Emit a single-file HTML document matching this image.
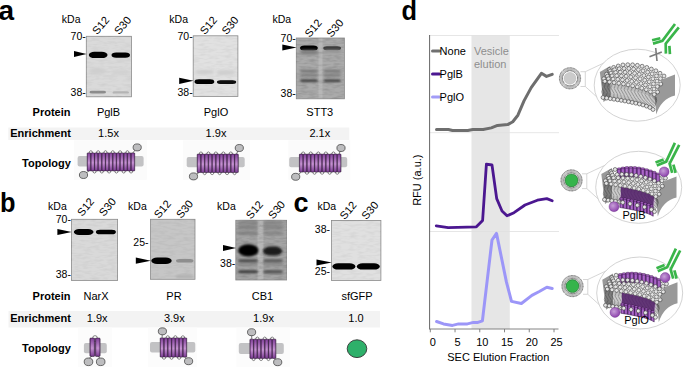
<!DOCTYPE html><html><head><meta charset="utf-8"><style>html,body{margin:0;padding:0;background:#fff;overflow:hidden}svg{display:block}text{font-family:"Liberation Sans",sans-serif}</style></head><body>
<svg width="685" height="367" viewBox="0 0 685 367">
<defs>
<filter id="b1" x="-20%" y="-50%" width="140%" height="200%"><feGaussianBlur stdDeviation="0.7"/></filter>
<filter id="b2" x="-20%" y="-80%" width="140%" height="260%"><feGaussianBlur stdDeviation="1.0"/></filter>
<filter id="b3" x="-20%" y="-80%" width="140%" height="260%"><feGaussianBlur stdDeviation="1.6"/></filter>
<linearGradient id="hel" x1="0" x2="0" y1="0" y2="1">
<stop offset="0" stop-color="#82409a"/><stop offset="0.55" stop-color="#c895d4"/><stop offset="1" stop-color="#7c3c94"/>
</linearGradient>
<linearGradient id="helh" x1="0" x2="1" y1="0" y2="0">
<stop offset="0" stop-color="#3a1048" stop-opacity="0.55"/><stop offset="0.35" stop-color="#3a1048" stop-opacity="0"/><stop offset="0.7" stop-color="#3a1048" stop-opacity="0.05"/><stop offset="1" stop-color="#3a1048" stop-opacity="0.45"/>
</linearGradient>
<filter id="nz" x="0" y="0" width="1" height="1" filterUnits="objectBoundingBox"><feTurbulence type="fractalNoise" baseFrequency="0.12 0.45" numOctaves="2" seed="4"/><feColorMatrix type="matrix" values="0 0 0 0 0  0 0 0 0 0  0 0 0 0 0  1.4 0 0 0 -0.55"/></filter>
<filter id="b4" x="-30%" y="-150%" width="160%" height="400%"><feGaussianBlur stdDeviation="2.2 1.4"/></filter>
<linearGradient id="cyl" x1="0" x2="1" y1="0" y2="0"><stop offset="0" stop-color="#74309a"/><stop offset="0.45" stop-color="#b06ccc"/><stop offset="1" stop-color="#8240a0"/></linearGradient>
<radialGradient id="pball" cx="0.4" cy="0.4" r="0.6"><stop offset="0" stop-color="#c7a0d8"/><stop offset="1" stop-color="#8e44ad"/></radialGradient>
</defs>
<text x="-1.5" y="19.7" font-size="28" font-weight="bold">a</text>
<text x="0" y="212.4" font-size="27" font-weight="bold" transform="translate(1.5,0) scale(0.94,1) translate(-1.5,0)">b</text>
<text x="293.5" y="212.4" font-size="27" font-weight="bold">c</text>
<rect x="86.3" y="36.3" width="45.2" height="60.5" fill="#dadada" stroke="#8a8a8a" stroke-width="0.8"/>
<rect x="86.8" y="36.8" width="44.2" height="59.5" fill="#000" filter="url(#nz)" opacity="0.07"/>
<rect x="88.8" y="51.8" width="18.700000000000003" height="6.300000000000004" rx="5.670000000000004" ry="3.150000000000002" fill="#000" filter="url(#b1)"/>
<rect x="111.5" y="52.5" width="18.5" height="5.200000000000003" rx="4.680000000000002" ry="2.6000000000000014" fill="#050505" filter="url(#b1)"/>
<rect x="89.5" y="90.8" width="16.5" height="2.799999999999997" rx="2.5199999999999974" ry="1.3999999999999986" fill="#8c8c8c" filter="url(#b1)"/>
<rect x="112.5" y="91.2" width="16.5" height="2.3999999999999915" rx="2.1599999999999926" ry="1.1999999999999957" fill="#b4b4b4" filter="url(#b1)"/>
<rect x="89" y="68" width="17" height="6" rx="5.4" ry="3.0" fill="#cfcfcf" filter="url(#b3)"/>
<rect x="112" y="70" width="17" height="5" rx="4.5" ry="2.5" fill="#d2d2d2" filter="url(#b3)"/>
<text x="61.8" y="22.9" font-size="10.5" font-weight="normal" text-anchor="start" fill="#000" >kDa</text>
<text x="0" y="0" font-size="11" transform="translate(97.3,35.3) rotate(-50)">S12</text>
<text x="0" y="0" font-size="11" transform="translate(119.3,35.3) rotate(-50)">S30</text>
<text x="85.8" y="40.3" font-size="10.5" font-weight="normal" text-anchor="end" fill="#000" >70-</text>
<text x="85.8" y="95.8" font-size="10.5" font-weight="normal" text-anchor="end" fill="#000" >38-</text>
<polygon points="74.0,50.9 86.6,54 74.0,57.1" fill="#000"/>
<rect x="193.2" y="35.8" width="44.70000000000002" height="60.60000000000001" fill="#e1e1e1" stroke="#8a8a8a" stroke-width="0.8"/>
<rect x="193.7" y="36.3" width="43.70000000000002" height="59.60000000000001" fill="#000" filter="url(#nz)" opacity="0.07"/>
<rect x="194.5" y="79.2" width="19.80000000000001" height="4.8999999999999915" rx="4.409999999999992" ry="2.4499999999999957" fill="#000" filter="url(#b1)"/>
<rect x="217" y="80.2" width="19.19999999999999" height="3.799999999999997" rx="3.4199999999999977" ry="1.8999999999999986" fill="#080808" filter="url(#b1)"/>
<rect x="195" y="70" width="19" height="4" rx="3.6" ry="2.0" fill="#cdcdcd" filter="url(#b3)"/>
<rect x="217" y="70" width="18" height="5" rx="4.5" ry="2.5" fill="#cfcfcf" filter="url(#b3)"/>
<text x="169.3" y="23.3" font-size="10.5" font-weight="normal" text-anchor="start" fill="#000" >kDa</text>
<text x="0" y="0" font-size="11" transform="translate(205.1,35.3) rotate(-50)">S12</text>
<text x="0" y="0" font-size="11" transform="translate(226.7,35.3) rotate(-50)">S30</text>
<text x="192.7" y="39.599999999999994" font-size="10.5" font-weight="normal" text-anchor="end" fill="#000" >70-</text>
<text x="192.7" y="95.8" font-size="10.5" font-weight="normal" text-anchor="end" fill="#000" >38-</text>
<polygon points="179.2,77.7 193.5,80.8 179.2,83.89999999999999" fill="#000"/>
<rect x="296.3" y="38" width="48.099999999999966" height="60.8" fill="#aaaaaa" stroke="#8a8a8a" stroke-width="0.8"/>
<rect x="318.5" y="38.5" width="4.0" height="59.8" fill="#c0c0c0" opacity="0.6" filter="url(#b1)"/>
<rect x="296.8" y="38.5" width="47.099999999999966" height="59.8" fill="#000" filter="url(#nz)" opacity="0.18"/>
<rect x="300" y="45.6" width="17.80000000000001" height="5.0" rx="4.5" ry="2.5" fill="#000" filter="url(#b1)"/>
<rect x="323.3" y="46.3" width="17.69999999999999" height="3.9000000000000057" rx="3.510000000000005" ry="1.9500000000000028" fill="#3a3a3a" filter="url(#b1)"/>
<rect x="300" y="50" width="18" height="4.5" rx="4.05" ry="2.25" fill="#7a7a7a" filter="url(#b3)"/>
<rect x="323.5" y="50" width="17.5" height="3" rx="2.7" ry="1.5" fill="#959595" filter="url(#b3)"/>
<rect x="300" y="69.8" width="18" height="2.799999999999997" rx="2.5199999999999974" ry="1.3999999999999986" fill="#767676" filter="url(#b2)"/>
<rect x="323.5" y="69.8" width="17.5" height="2.799999999999997" rx="2.5199999999999974" ry="1.3999999999999986" fill="#767676" filter="url(#b2)"/>
<rect x="300" y="74" width="18" height="2.4000000000000057" rx="2.160000000000005" ry="1.2000000000000028" fill="#7a7a7a" filter="url(#b2)"/>
<rect x="323.5" y="74" width="17.5" height="2.4000000000000057" rx="2.160000000000005" ry="1.2000000000000028" fill="#7a7a7a" filter="url(#b2)"/>
<rect x="300" y="79.6" width="18" height="2.4000000000000057" rx="2.160000000000005" ry="1.2000000000000028" fill="#383838" filter="url(#b2)"/>
<rect x="323.5" y="79.6" width="17.5" height="2.4000000000000057" rx="2.160000000000005" ry="1.2000000000000028" fill="#383838" filter="url(#b2)"/>
<text x="272.4" y="22.9" font-size="10.5" font-weight="normal" text-anchor="start" fill="#000" >kDa</text>
<text x="0" y="0" font-size="11" transform="translate(309.8,38) rotate(-50)">S12</text>
<text x="0" y="0" font-size="11" transform="translate(331.6,38) rotate(-50)">S30</text>
<text x="295.8" y="41.9" font-size="10.5" font-weight="normal" text-anchor="end" fill="#000" >70-</text>
<text x="295.8" y="97.1" font-size="10.5" font-weight="normal" text-anchor="end" fill="#000" >38-</text>
<polygon points="282.3,44.4 296.6,47.5 282.3,50.6" fill="#000"/>
<rect x="71.4" y="219.3" width="46.19999999999999" height="61.19999999999999" fill="#d9d9d9" stroke="#8a8a8a" stroke-width="0.8"/>
<rect x="71.9" y="219.8" width="45.19999999999999" height="60.19999999999999" fill="#000" filter="url(#nz)" opacity="0.07"/>
<rect x="73.8" y="229.1" width="19.700000000000003" height="5.800000000000011" rx="5.22000000000001" ry="2.9000000000000057" fill="#000" filter="url(#b1)"/>
<rect x="95.9" y="229.7" width="20.0" height="4.600000000000023" rx="4.140000000000021" ry="2.3000000000000114" fill="#000" filter="url(#b1)"/>
<text x="48.1" y="210" font-size="10.5" font-weight="normal" text-anchor="start" fill="#000" >kDa</text>
<text x="0" y="0" font-size="11" transform="translate(82.2,216.9) rotate(-50)">S12</text>
<text x="0" y="0" font-size="11" transform="translate(104,216.9) rotate(-50)">S30</text>
<text x="70.9" y="223.3" font-size="10.5" font-weight="normal" text-anchor="end" fill="#000" >70-</text>
<text x="70.9" y="278.1" font-size="10.5" font-weight="normal" text-anchor="end" fill="#000" >38-</text>
<polygon points="57.400000000000006,228.9 71.7,232 57.400000000000006,235.1" fill="#000"/>
<rect x="150.5" y="219.3" width="44.5" height="60.0" fill="#c6c6c6" stroke="#8a8a8a" stroke-width="0.8"/>
<rect x="151.0" y="219.8" width="43.5" height="59.0" fill="#000" filter="url(#nz)" opacity="0.07"/>
<rect x="151.3" y="257.5" width="20.399999999999977" height="6.5" rx="5.8500000000000005" ry="3.25" fill="#000" filter="url(#b1)"/>
<rect x="176" y="259" width="17.5" height="3.6000000000000227" rx="3.2400000000000206" ry="1.8000000000000114" fill="#8e8e8e" filter="url(#b1)"/>
<rect x="176" y="275" width="17.5" height="3" rx="2.7" ry="1.5" fill="#b0b0b0" filter="url(#b2)"/>
<text x="128.1" y="210" font-size="10.5" font-weight="normal" text-anchor="start" fill="#000" >kDa</text>
<text x="0" y="0" font-size="11" transform="translate(159.1,219.1) rotate(-50)">S12</text>
<text x="0" y="0" font-size="11" transform="translate(181.2,219.1) rotate(-50)">S30</text>
<text x="148.5" y="246.20000000000002" font-size="10.5" font-weight="normal" text-anchor="end" fill="#000" >25-</text>
<polygon points="135.8,257.59999999999997 150.8,260.7 135.8,263.8" fill="#000"/>
<rect x="235.8" y="220.3" width="50.80000000000001" height="59.69999999999999" fill="#a4a4a4" stroke="#8a8a8a" stroke-width="0.8"/>
<rect x="257.5" y="220.8" width="6.0" height="58.69999999999999" fill="#c4c4c4" opacity="0.6" filter="url(#b1)"/>
<rect x="236.3" y="220.8" width="49.80000000000001" height="58.69999999999999" fill="#000" filter="url(#nz)" opacity="0.18"/>
<rect x="238.2" y="244.2" width="20.30000000000001" height="12.400000000000034" rx="10.150000000000006" ry="6.200000000000017" fill="#000" filter="url(#b2)"/>
<rect x="262.8" y="246.6" width="19.599999999999966" height="9.0" rx="8.1" ry="4.5" fill="#1c1c1c" filter="url(#b2)"/>
<rect x="238" y="221.5" width="20" height="2.6999999999999886" rx="2.42999999999999" ry="1.3499999999999943" fill="#7a7a7a" filter="url(#b3)"/>
<rect x="263" y="221.5" width="20" height="2.6999999999999886" rx="2.42999999999999" ry="1.3499999999999943" fill="#7a7a7a" filter="url(#b3)"/>
<rect x="238" y="226" width="20" height="2.5999999999999943" rx="2.339999999999995" ry="1.2999999999999972" fill="#707070" filter="url(#b3)"/>
<rect x="263" y="226" width="20" height="2.5999999999999943" rx="2.339999999999995" ry="1.2999999999999972" fill="#747474" filter="url(#b3)"/>
<rect x="238" y="231.8" width="20" height="2.5999999999999943" rx="2.339999999999995" ry="1.2999999999999972" fill="#767676" filter="url(#b3)"/>
<rect x="263" y="231.8" width="20" height="2.5999999999999943" rx="2.339999999999995" ry="1.2999999999999972" fill="#7a7a7a" filter="url(#b3)"/>
<rect x="238" y="259.2" width="20" height="3.1999999999999886" rx="2.8799999999999897" ry="1.5999999999999943" fill="#4a4a4a" filter="url(#b2)"/>
<rect x="263" y="259.2" width="20" height="3.1999999999999886" rx="2.8799999999999897" ry="1.5999999999999943" fill="#585858" filter="url(#b2)"/>
<rect x="238" y="263.5" width="20" height="2.0" rx="1.8" ry="1.0" fill="#7a7a7a" filter="url(#b3)"/>
<rect x="263" y="263.5" width="20" height="2.0" rx="1.8" ry="1.0" fill="#7a7a7a" filter="url(#b3)"/>
<rect x="238" y="270.2" width="20" height="3.0" rx="2.7" ry="1.5" fill="#3e3e3e" filter="url(#b2)"/>
<rect x="263" y="270.2" width="20" height="3.0" rx="2.7" ry="1.5" fill="#4e4e4e" filter="url(#b2)"/>
<text x="217.1" y="210" font-size="10.5" font-weight="normal" text-anchor="start" fill="#000" >kDa</text>
<text x="0" y="0" font-size="11" transform="translate(251.1,219.7) rotate(-50)">S12</text>
<text x="0" y="0" font-size="11" transform="translate(273.2,219.7) rotate(-50)">S30</text>
<text x="235.3" y="266.6" font-size="10.5" font-weight="normal" text-anchor="end" fill="#000" >38-</text>
<polygon points="223.0,244.9 236.10000000000002,248 223.0,251.1" fill="#000"/>
<rect x="331.5" y="220.4" width="49.39999999999998" height="60.099999999999994" fill="#e0e0e0" stroke="#8a8a8a" stroke-width="0.8"/>
<rect x="332.0" y="220.9" width="48.39999999999998" height="59.099999999999994" fill="#000" filter="url(#nz)" opacity="0.07"/>
<rect x="332.4" y="263.2" width="23.0" height="6.400000000000034" rx="5.760000000000031" ry="3.200000000000017" fill="#000" filter="url(#b1)"/>
<rect x="356.8" y="263.2" width="23.0" height="6.400000000000034" rx="5.760000000000031" ry="3.200000000000017" fill="#000" filter="url(#b1)"/>
<text x="317.4" y="210" font-size="10.5" font-weight="normal" text-anchor="start" fill="#000" >kDa</text>
<text x="0" y="0" font-size="11" transform="translate(344.7,220.3) rotate(-50)">S12</text>
<text x="0" y="0" font-size="11" transform="translate(366.6,220.3) rotate(-50)">S30</text>
<text x="330.0" y="233.3" font-size="10.5" font-weight="normal" text-anchor="end" fill="#000" >38-</text>
<text x="330.0" y="274.90000000000003" font-size="10.5" font-weight="normal" text-anchor="end" fill="#000" >25-</text>
<polygon points="316.5,259.4 331.8,262.5 316.5,265.6" fill="#000"/>
<rect x="8.3" y="127.5" width="341" height="12.5" fill="#f3f3f3"/>
<rect x="8.5" y="311" width="371.5" height="16.5" fill="#f3f3f3"/>
<rect x="73.9" y="140.3" width="73.0" height="39.5" fill="#fbfbfb"/>
<rect x="183" y="140.3" width="67" height="39.5" fill="#fbfbfb"/>
<rect x="288.3" y="140.3" width="62.0" height="39.5" fill="#fbfbfb"/>
<rect x="78" y="327.5" width="34" height="39.5" fill="#fcfcfc"/>
<rect x="148" y="327.5" width="49" height="39.5" fill="#fcfcfc"/>
<rect x="236.3" y="327.5" width="53.69999999999999" height="39.5" fill="#fcfcfc"/>
<text x="70.5" y="115.7" font-size="11" font-weight="bold" text-anchor="end" fill="#000" >Protein</text>
<text x="70.8" y="137" font-size="11" font-weight="bold" text-anchor="end" fill="#000" >Enrichment</text>
<text x="70.8" y="167" font-size="11" font-weight="bold" text-anchor="end" fill="#000" >Topology</text>
<text x="70.5" y="300.2" font-size="11" font-weight="bold" text-anchor="end" fill="#000" >Protein</text>
<text x="70.8" y="321.9" font-size="11" font-weight="bold" text-anchor="end" fill="#000" >Enrichment</text>
<text x="70.8" y="351.6" font-size="11" font-weight="bold" text-anchor="end" fill="#000" >Topology</text>
<text x="108.5" y="115.5" font-size="11" font-weight="normal" text-anchor="middle" fill="#000" >PglB</text>
<text x="108.5" y="137" font-size="11" font-weight="normal" text-anchor="middle" fill="#000" >1.5x</text>
<text x="216" y="115.5" font-size="11" font-weight="normal" text-anchor="middle" fill="#000" >PglO</text>
<text x="216" y="137" font-size="11" font-weight="normal" text-anchor="middle" fill="#000" >1.9x</text>
<text x="319.8" y="115.5" font-size="11" font-weight="normal" text-anchor="middle" fill="#000" >STT3</text>
<text x="319.8" y="137" font-size="11" font-weight="normal" text-anchor="middle" fill="#000" >2.1x</text>
<text x="96" y="300" font-size="11" font-weight="normal" text-anchor="middle" fill="#000" >NarX</text>
<text x="97.2" y="322" font-size="11" font-weight="normal" text-anchor="middle" fill="#000" >1.9x</text>
<text x="174" y="300" font-size="11" font-weight="normal" text-anchor="middle" fill="#000" >PR</text>
<text x="174.3" y="322" font-size="11" font-weight="normal" text-anchor="middle" fill="#000" >3.9x</text>
<text x="262.5" y="300" font-size="11" font-weight="normal" text-anchor="middle" fill="#000" >CB1</text>
<text x="263.5" y="322" font-size="11" font-weight="normal" text-anchor="middle" fill="#000" >1.9x</text>
<text x="357" y="300" font-size="11" font-weight="normal" text-anchor="middle" fill="#000" >sfGFP</text>
<text x="356" y="322" font-size="11" font-weight="normal" text-anchor="middle" fill="#000" >1.0</text>
<rect x="77.6" y="156" width="66.0" height="10.400000000000006" rx="2" fill="#c2c2c4"/>
<ellipse cx="90.85" cy="153.70" rx="1.83" ry="3" fill="#fff" stroke="#222" stroke-width="0.55"/>
<ellipse cx="94.51" cy="170.10" rx="1.83" ry="3" fill="#fff" stroke="#222" stroke-width="0.55"/>
<ellipse cx="98.16" cy="153.70" rx="1.83" ry="3" fill="#fff" stroke="#222" stroke-width="0.55"/>
<ellipse cx="101.82" cy="170.10" rx="1.83" ry="3" fill="#fff" stroke="#222" stroke-width="0.55"/>
<ellipse cx="105.47" cy="153.70" rx="1.83" ry="3" fill="#fff" stroke="#222" stroke-width="0.55"/>
<ellipse cx="109.12" cy="170.10" rx="1.83" ry="3" fill="#fff" stroke="#222" stroke-width="0.55"/>
<ellipse cx="112.78" cy="153.70" rx="1.83" ry="3" fill="#fff" stroke="#222" stroke-width="0.55"/>
<ellipse cx="116.43" cy="170.10" rx="1.83" ry="3" fill="#fff" stroke="#222" stroke-width="0.55"/>
<ellipse cx="120.08" cy="153.70" rx="1.83" ry="3" fill="#fff" stroke="#222" stroke-width="0.55"/>
<ellipse cx="123.74" cy="170.10" rx="1.83" ry="3" fill="#fff" stroke="#222" stroke-width="0.55"/>
<ellipse cx="127.39" cy="153.70" rx="1.83" ry="3" fill="#fff" stroke="#222" stroke-width="0.55"/>
<ellipse cx="131.05" cy="170.10" rx="1.83" ry="3" fill="#fff" stroke="#222" stroke-width="0.55"/>
<line x1="132.87" y1="152.90" x2="137.20" y2="147.40" stroke="#222" stroke-width="0.6"/>
<line x1="89.03" y1="170.90" x2="83.50" y2="175.00" stroke="#222" stroke-width="0.6"/>
<rect x="87.20" y="152.9" width="3.65" height="18.00" rx="0.6" fill="url(#hel)"/>
<rect x="87.20" y="152.9" width="3.65" height="18.00" rx="0.6" fill="url(#helh)" stroke="#2a1a30" stroke-width="0.55"/>
<rect x="90.85" y="152.9" width="3.65" height="18.00" rx="0.6" fill="url(#hel)"/>
<rect x="90.85" y="152.9" width="3.65" height="18.00" rx="0.6" fill="url(#helh)" stroke="#2a1a30" stroke-width="0.55"/>
<rect x="94.51" y="152.9" width="3.65" height="18.00" rx="0.6" fill="url(#hel)"/>
<rect x="94.51" y="152.9" width="3.65" height="18.00" rx="0.6" fill="url(#helh)" stroke="#2a1a30" stroke-width="0.55"/>
<rect x="98.16" y="152.9" width="3.65" height="18.00" rx="0.6" fill="url(#hel)"/>
<rect x="98.16" y="152.9" width="3.65" height="18.00" rx="0.6" fill="url(#helh)" stroke="#2a1a30" stroke-width="0.55"/>
<rect x="101.82" y="152.9" width="3.65" height="18.00" rx="0.6" fill="url(#hel)"/>
<rect x="101.82" y="152.9" width="3.65" height="18.00" rx="0.6" fill="url(#helh)" stroke="#2a1a30" stroke-width="0.55"/>
<rect x="105.47" y="152.9" width="3.65" height="18.00" rx="0.6" fill="url(#hel)"/>
<rect x="105.47" y="152.9" width="3.65" height="18.00" rx="0.6" fill="url(#helh)" stroke="#2a1a30" stroke-width="0.55"/>
<rect x="109.12" y="152.9" width="3.65" height="18.00" rx="0.6" fill="url(#hel)"/>
<rect x="109.12" y="152.9" width="3.65" height="18.00" rx="0.6" fill="url(#helh)" stroke="#2a1a30" stroke-width="0.55"/>
<rect x="112.78" y="152.9" width="3.65" height="18.00" rx="0.6" fill="url(#hel)"/>
<rect x="112.78" y="152.9" width="3.65" height="18.00" rx="0.6" fill="url(#helh)" stroke="#2a1a30" stroke-width="0.55"/>
<rect x="116.43" y="152.9" width="3.65" height="18.00" rx="0.6" fill="url(#hel)"/>
<rect x="116.43" y="152.9" width="3.65" height="18.00" rx="0.6" fill="url(#helh)" stroke="#2a1a30" stroke-width="0.55"/>
<rect x="120.08" y="152.9" width="3.65" height="18.00" rx="0.6" fill="url(#hel)"/>
<rect x="120.08" y="152.9" width="3.65" height="18.00" rx="0.6" fill="url(#helh)" stroke="#2a1a30" stroke-width="0.55"/>
<rect x="123.74" y="152.9" width="3.65" height="18.00" rx="0.6" fill="url(#hel)"/>
<rect x="123.74" y="152.9" width="3.65" height="18.00" rx="0.6" fill="url(#helh)" stroke="#2a1a30" stroke-width="0.55"/>
<rect x="127.39" y="152.9" width="3.65" height="18.00" rx="0.6" fill="url(#hel)"/>
<rect x="127.39" y="152.9" width="3.65" height="18.00" rx="0.6" fill="url(#helh)" stroke="#2a1a30" stroke-width="0.55"/>
<rect x="131.05" y="152.9" width="3.65" height="18.00" rx="0.6" fill="url(#hel)"/>
<rect x="131.05" y="152.9" width="3.65" height="18.00" rx="0.6" fill="url(#helh)" stroke="#2a1a30" stroke-width="0.55"/>
<ellipse cx="137.2" cy="147.4" rx="4.1" ry="3.5" fill="#bdbdbf" stroke="#333" stroke-width="0.7"/>
<ellipse cx="83.5" cy="175" rx="4.1" ry="3.5" fill="#bdbdbf" stroke="#333" stroke-width="0.7"/>
<rect x="186.7" y="157" width="58.0" height="10.199999999999989" rx="2" fill="#c2c2c4"/>
<ellipse cx="200.94" cy="154.90" rx="1.87" ry="3" fill="#fff" stroke="#222" stroke-width="0.55"/>
<ellipse cx="204.67" cy="171.70" rx="1.87" ry="3" fill="#fff" stroke="#222" stroke-width="0.55"/>
<ellipse cx="208.41" cy="154.90" rx="1.87" ry="3" fill="#fff" stroke="#222" stroke-width="0.55"/>
<ellipse cx="212.15" cy="171.70" rx="1.87" ry="3" fill="#fff" stroke="#222" stroke-width="0.55"/>
<ellipse cx="215.88" cy="154.90" rx="1.87" ry="3" fill="#fff" stroke="#222" stroke-width="0.55"/>
<ellipse cx="219.62" cy="171.70" rx="1.87" ry="3" fill="#fff" stroke="#222" stroke-width="0.55"/>
<ellipse cx="223.35" cy="154.90" rx="1.87" ry="3" fill="#fff" stroke="#222" stroke-width="0.55"/>
<ellipse cx="227.09" cy="171.70" rx="1.87" ry="3" fill="#fff" stroke="#222" stroke-width="0.55"/>
<ellipse cx="230.83" cy="154.90" rx="1.87" ry="3" fill="#fff" stroke="#222" stroke-width="0.55"/>
<ellipse cx="234.56" cy="171.70" rx="1.87" ry="3" fill="#fff" stroke="#222" stroke-width="0.55"/>
<line x1="236.43" y1="154.10" x2="239.30" y2="148.00" stroke="#222" stroke-width="0.6"/>
<line x1="199.07" y1="172.50" x2="193.50" y2="176.40" stroke="#222" stroke-width="0.6"/>
<rect x="197.20" y="154.1" width="3.74" height="18.40" rx="0.6" fill="url(#hel)"/>
<rect x="197.20" y="154.1" width="3.74" height="18.40" rx="0.6" fill="url(#helh)" stroke="#2a1a30" stroke-width="0.55"/>
<rect x="200.94" y="154.1" width="3.74" height="18.40" rx="0.6" fill="url(#hel)"/>
<rect x="200.94" y="154.1" width="3.74" height="18.40" rx="0.6" fill="url(#helh)" stroke="#2a1a30" stroke-width="0.55"/>
<rect x="204.67" y="154.1" width="3.74" height="18.40" rx="0.6" fill="url(#hel)"/>
<rect x="204.67" y="154.1" width="3.74" height="18.40" rx="0.6" fill="url(#helh)" stroke="#2a1a30" stroke-width="0.55"/>
<rect x="208.41" y="154.1" width="3.74" height="18.40" rx="0.6" fill="url(#hel)"/>
<rect x="208.41" y="154.1" width="3.74" height="18.40" rx="0.6" fill="url(#helh)" stroke="#2a1a30" stroke-width="0.55"/>
<rect x="212.15" y="154.1" width="3.74" height="18.40" rx="0.6" fill="url(#hel)"/>
<rect x="212.15" y="154.1" width="3.74" height="18.40" rx="0.6" fill="url(#helh)" stroke="#2a1a30" stroke-width="0.55"/>
<rect x="215.88" y="154.1" width="3.74" height="18.40" rx="0.6" fill="url(#hel)"/>
<rect x="215.88" y="154.1" width="3.74" height="18.40" rx="0.6" fill="url(#helh)" stroke="#2a1a30" stroke-width="0.55"/>
<rect x="219.62" y="154.1" width="3.74" height="18.40" rx="0.6" fill="url(#hel)"/>
<rect x="219.62" y="154.1" width="3.74" height="18.40" rx="0.6" fill="url(#helh)" stroke="#2a1a30" stroke-width="0.55"/>
<rect x="223.35" y="154.1" width="3.74" height="18.40" rx="0.6" fill="url(#hel)"/>
<rect x="223.35" y="154.1" width="3.74" height="18.40" rx="0.6" fill="url(#helh)" stroke="#2a1a30" stroke-width="0.55"/>
<rect x="227.09" y="154.1" width="3.74" height="18.40" rx="0.6" fill="url(#hel)"/>
<rect x="227.09" y="154.1" width="3.74" height="18.40" rx="0.6" fill="url(#helh)" stroke="#2a1a30" stroke-width="0.55"/>
<rect x="230.83" y="154.1" width="3.74" height="18.40" rx="0.6" fill="url(#hel)"/>
<rect x="230.83" y="154.1" width="3.74" height="18.40" rx="0.6" fill="url(#helh)" stroke="#2a1a30" stroke-width="0.55"/>
<rect x="234.56" y="154.1" width="3.74" height="18.40" rx="0.6" fill="url(#hel)"/>
<rect x="234.56" y="154.1" width="3.74" height="18.40" rx="0.6" fill="url(#helh)" stroke="#2a1a30" stroke-width="0.55"/>
<ellipse cx="239.3" cy="148" rx="4.1" ry="3.5" fill="#bdbdbf" stroke="#333" stroke-width="0.7"/>
<ellipse cx="193.5" cy="176.4" rx="4.1" ry="3.5" fill="#bdbdbf" stroke="#333" stroke-width="0.7"/>
<rect x="289.2" y="156.9" width="58.0" height="10.299999999999983" rx="2" fill="#c2c2c4"/>
<ellipse cx="303.18" cy="154.90" rx="1.89" ry="3" fill="#fff" stroke="#222" stroke-width="0.55"/>
<ellipse cx="306.96" cy="171.30" rx="1.89" ry="3" fill="#fff" stroke="#222" stroke-width="0.55"/>
<ellipse cx="310.75" cy="154.90" rx="1.89" ry="3" fill="#fff" stroke="#222" stroke-width="0.55"/>
<ellipse cx="314.53" cy="171.30" rx="1.89" ry="3" fill="#fff" stroke="#222" stroke-width="0.55"/>
<ellipse cx="318.31" cy="154.90" rx="1.89" ry="3" fill="#fff" stroke="#222" stroke-width="0.55"/>
<ellipse cx="322.09" cy="171.30" rx="1.89" ry="3" fill="#fff" stroke="#222" stroke-width="0.55"/>
<ellipse cx="325.87" cy="154.90" rx="1.89" ry="3" fill="#fff" stroke="#222" stroke-width="0.55"/>
<ellipse cx="329.65" cy="171.30" rx="1.89" ry="3" fill="#fff" stroke="#222" stroke-width="0.55"/>
<ellipse cx="333.44" cy="154.90" rx="1.89" ry="3" fill="#fff" stroke="#222" stroke-width="0.55"/>
<ellipse cx="337.22" cy="171.30" rx="1.89" ry="3" fill="#fff" stroke="#222" stroke-width="0.55"/>
<line x1="339.11" y1="154.10" x2="341.00" y2="148.00" stroke="#222" stroke-width="0.6"/>
<line x1="301.29" y1="172.10" x2="295.70" y2="176.80" stroke="#222" stroke-width="0.6"/>
<rect x="299.40" y="154.1" width="3.78" height="18.00" rx="0.6" fill="url(#hel)"/>
<rect x="299.40" y="154.1" width="3.78" height="18.00" rx="0.6" fill="url(#helh)" stroke="#2a1a30" stroke-width="0.55"/>
<rect x="303.18" y="154.1" width="3.78" height="18.00" rx="0.6" fill="url(#hel)"/>
<rect x="303.18" y="154.1" width="3.78" height="18.00" rx="0.6" fill="url(#helh)" stroke="#2a1a30" stroke-width="0.55"/>
<rect x="306.96" y="154.1" width="3.78" height="18.00" rx="0.6" fill="url(#hel)"/>
<rect x="306.96" y="154.1" width="3.78" height="18.00" rx="0.6" fill="url(#helh)" stroke="#2a1a30" stroke-width="0.55"/>
<rect x="310.75" y="154.1" width="3.78" height="18.00" rx="0.6" fill="url(#hel)"/>
<rect x="310.75" y="154.1" width="3.78" height="18.00" rx="0.6" fill="url(#helh)" stroke="#2a1a30" stroke-width="0.55"/>
<rect x="314.53" y="154.1" width="3.78" height="18.00" rx="0.6" fill="url(#hel)"/>
<rect x="314.53" y="154.1" width="3.78" height="18.00" rx="0.6" fill="url(#helh)" stroke="#2a1a30" stroke-width="0.55"/>
<rect x="318.31" y="154.1" width="3.78" height="18.00" rx="0.6" fill="url(#hel)"/>
<rect x="318.31" y="154.1" width="3.78" height="18.00" rx="0.6" fill="url(#helh)" stroke="#2a1a30" stroke-width="0.55"/>
<rect x="322.09" y="154.1" width="3.78" height="18.00" rx="0.6" fill="url(#hel)"/>
<rect x="322.09" y="154.1" width="3.78" height="18.00" rx="0.6" fill="url(#helh)" stroke="#2a1a30" stroke-width="0.55"/>
<rect x="325.87" y="154.1" width="3.78" height="18.00" rx="0.6" fill="url(#hel)"/>
<rect x="325.87" y="154.1" width="3.78" height="18.00" rx="0.6" fill="url(#helh)" stroke="#2a1a30" stroke-width="0.55"/>
<rect x="329.65" y="154.1" width="3.78" height="18.00" rx="0.6" fill="url(#hel)"/>
<rect x="329.65" y="154.1" width="3.78" height="18.00" rx="0.6" fill="url(#helh)" stroke="#2a1a30" stroke-width="0.55"/>
<rect x="333.44" y="154.1" width="3.78" height="18.00" rx="0.6" fill="url(#hel)"/>
<rect x="333.44" y="154.1" width="3.78" height="18.00" rx="0.6" fill="url(#helh)" stroke="#2a1a30" stroke-width="0.55"/>
<rect x="337.22" y="154.1" width="3.78" height="18.00" rx="0.6" fill="url(#hel)"/>
<rect x="337.22" y="154.1" width="3.78" height="18.00" rx="0.6" fill="url(#helh)" stroke="#2a1a30" stroke-width="0.55"/>
<ellipse cx="341" cy="148" rx="4.1" ry="3.5" fill="#bdbdbf" stroke="#333" stroke-width="0.7"/>
<ellipse cx="295.7" cy="176.8" rx="4.1" ry="3.5" fill="#bdbdbf" stroke="#333" stroke-width="0.7"/>
<rect x="150" y="342" width="45.30000000000001" height="10.600000000000023" rx="2" fill="#c2c2c4"/>
<ellipse cx="163.99" cy="356.30" rx="1.89" ry="3" fill="#fff" stroke="#222" stroke-width="0.55"/>
<ellipse cx="167.77" cy="338.70" rx="1.89" ry="3" fill="#fff" stroke="#222" stroke-width="0.55"/>
<ellipse cx="171.56" cy="356.30" rx="1.89" ry="3" fill="#fff" stroke="#222" stroke-width="0.55"/>
<ellipse cx="175.34" cy="338.70" rx="1.89" ry="3" fill="#fff" stroke="#222" stroke-width="0.55"/>
<ellipse cx="179.13" cy="356.30" rx="1.89" ry="3" fill="#fff" stroke="#222" stroke-width="0.55"/>
<ellipse cx="182.91" cy="338.70" rx="1.89" ry="3" fill="#fff" stroke="#222" stroke-width="0.55"/>
<line x1="162.09" y1="337.90" x2="162.40" y2="331.30" stroke="#222" stroke-width="0.6"/>
<line x1="184.81" y1="357.10" x2="188.60" y2="361.20" stroke="#222" stroke-width="0.6"/>
<rect x="160.20" y="337.9" width="3.79" height="19.20" rx="0.6" fill="url(#hel)"/>
<rect x="160.20" y="337.9" width="3.79" height="19.20" rx="0.6" fill="url(#helh)" stroke="#2a1a30" stroke-width="0.55"/>
<rect x="163.99" y="337.9" width="3.79" height="19.20" rx="0.6" fill="url(#hel)"/>
<rect x="163.99" y="337.9" width="3.79" height="19.20" rx="0.6" fill="url(#helh)" stroke="#2a1a30" stroke-width="0.55"/>
<rect x="167.77" y="337.9" width="3.79" height="19.20" rx="0.6" fill="url(#hel)"/>
<rect x="167.77" y="337.9" width="3.79" height="19.20" rx="0.6" fill="url(#helh)" stroke="#2a1a30" stroke-width="0.55"/>
<rect x="171.56" y="337.9" width="3.79" height="19.20" rx="0.6" fill="url(#hel)"/>
<rect x="171.56" y="337.9" width="3.79" height="19.20" rx="0.6" fill="url(#helh)" stroke="#2a1a30" stroke-width="0.55"/>
<rect x="175.34" y="337.9" width="3.79" height="19.20" rx="0.6" fill="url(#hel)"/>
<rect x="175.34" y="337.9" width="3.79" height="19.20" rx="0.6" fill="url(#helh)" stroke="#2a1a30" stroke-width="0.55"/>
<rect x="179.13" y="337.9" width="3.79" height="19.20" rx="0.6" fill="url(#hel)"/>
<rect x="179.13" y="337.9" width="3.79" height="19.20" rx="0.6" fill="url(#helh)" stroke="#2a1a30" stroke-width="0.55"/>
<rect x="182.91" y="337.9" width="3.79" height="19.20" rx="0.6" fill="url(#hel)"/>
<rect x="182.91" y="337.9" width="3.79" height="19.20" rx="0.6" fill="url(#helh)" stroke="#2a1a30" stroke-width="0.55"/>
<ellipse cx="162.4" cy="331.3" rx="4.1" ry="3.5" fill="#bdbdbf" stroke="#333" stroke-width="0.7"/>
<ellipse cx="188.6" cy="361.2" rx="4.1" ry="3.5" fill="#bdbdbf" stroke="#333" stroke-width="0.7"/>
<rect x="238.8" y="343" width="45.0" height="10.899999999999977" rx="2" fill="#c2c2c4"/>
<ellipse cx="253.61" cy="357.60" rx="1.86" ry="3" fill="#fff" stroke="#222" stroke-width="0.55"/>
<ellipse cx="257.33" cy="340.00" rx="1.86" ry="3" fill="#fff" stroke="#222" stroke-width="0.55"/>
<ellipse cx="261.04" cy="357.60" rx="1.86" ry="3" fill="#fff" stroke="#222" stroke-width="0.55"/>
<ellipse cx="264.76" cy="340.00" rx="1.86" ry="3" fill="#fff" stroke="#222" stroke-width="0.55"/>
<ellipse cx="268.47" cy="357.60" rx="1.86" ry="3" fill="#fff" stroke="#222" stroke-width="0.55"/>
<ellipse cx="272.19" cy="340.00" rx="1.86" ry="3" fill="#fff" stroke="#222" stroke-width="0.55"/>
<line x1="251.76" y1="339.20" x2="251.60" y2="332.20" stroke="#222" stroke-width="0.6"/>
<line x1="274.04" y1="358.40" x2="277.70" y2="362.20" stroke="#222" stroke-width="0.6"/>
<rect x="249.90" y="339.2" width="3.71" height="19.20" rx="0.6" fill="url(#hel)"/>
<rect x="249.90" y="339.2" width="3.71" height="19.20" rx="0.6" fill="url(#helh)" stroke="#2a1a30" stroke-width="0.55"/>
<rect x="253.61" y="339.2" width="3.71" height="19.20" rx="0.6" fill="url(#hel)"/>
<rect x="253.61" y="339.2" width="3.71" height="19.20" rx="0.6" fill="url(#helh)" stroke="#2a1a30" stroke-width="0.55"/>
<rect x="257.33" y="339.2" width="3.71" height="19.20" rx="0.6" fill="url(#hel)"/>
<rect x="257.33" y="339.2" width="3.71" height="19.20" rx="0.6" fill="url(#helh)" stroke="#2a1a30" stroke-width="0.55"/>
<rect x="261.04" y="339.2" width="3.71" height="19.20" rx="0.6" fill="url(#hel)"/>
<rect x="261.04" y="339.2" width="3.71" height="19.20" rx="0.6" fill="url(#helh)" stroke="#2a1a30" stroke-width="0.55"/>
<rect x="264.76" y="339.2" width="3.71" height="19.20" rx="0.6" fill="url(#hel)"/>
<rect x="264.76" y="339.2" width="3.71" height="19.20" rx="0.6" fill="url(#helh)" stroke="#2a1a30" stroke-width="0.55"/>
<rect x="268.47" y="339.2" width="3.71" height="19.20" rx="0.6" fill="url(#hel)"/>
<rect x="268.47" y="339.2" width="3.71" height="19.20" rx="0.6" fill="url(#helh)" stroke="#2a1a30" stroke-width="0.55"/>
<rect x="272.19" y="339.2" width="3.71" height="19.20" rx="0.6" fill="url(#hel)"/>
<rect x="272.19" y="339.2" width="3.71" height="19.20" rx="0.6" fill="url(#helh)" stroke="#2a1a30" stroke-width="0.55"/>
<ellipse cx="251.6" cy="332.2" rx="4.1" ry="3.5" fill="#bdbdbf" stroke="#333" stroke-width="0.7"/>
<ellipse cx="277.7" cy="362.2" rx="4.1" ry="3.5" fill="#bdbdbf" stroke="#333" stroke-width="0.7"/>
<rect x="83.9" y="343" width="22.9" height="10.3" rx="2" fill="#c2c2c4"/>
<ellipse cx="95" cy="338.6" rx="2.5" ry="3" fill="#fff" stroke="#222" stroke-width="0.55"/>
<rect x="89.9" y="338.1" width="4.8" height="18.3" rx="0.8" fill="url(#hel)"/>
<rect x="89.9" y="338.1" width="4.8" height="18.3" rx="0.8" fill="url(#helh)" stroke="#2a1a30" stroke-width="0.55"/>
<rect x="95.3" y="338.1" width="4.8" height="18.3" rx="0.8" fill="url(#hel)"/>
<rect x="95.3" y="338.1" width="4.8" height="18.3" rx="0.8" fill="url(#helh)" stroke="#2a1a30" stroke-width="0.55"/>
<line x1="92" y1="356" x2="89" y2="358.5" stroke="#333" stroke-width="0.6"/><line x1="97.6" y1="356" x2="100.5" y2="358.5" stroke="#333" stroke-width="0.6"/>
<ellipse cx="88.5" cy="361.8" rx="4.3" ry="3.8" fill="#bdbdbf" stroke="#333" stroke-width="0.7"/>
<ellipse cx="100.7" cy="361.8" rx="4.3" ry="3.8" fill="#bdbdbf" stroke="#333" stroke-width="0.7"/>
<ellipse cx="357" cy="348.7" rx="9.8" ry="8.9" fill="#2eb06a" stroke="#333" stroke-width="0.9"/>
<rect x="471.5" y="35.3" width="38.3" height="293.7" fill="#e6e6e6"/>
<line x1="429.5" y1="35.5" x2="559" y2="35.5" stroke="#e0e0e0" stroke-width="0.8"/>
<line x1="429.5" y1="132.7" x2="559" y2="132.7" stroke="#e0e0e0" stroke-width="0.8"/>
<line x1="429.5" y1="231.5" x2="559" y2="231.5" stroke="#e0e0e0" stroke-width="0.8"/>
<line x1="429.6" y1="35" x2="429.6" y2="329.3" stroke="#555" stroke-width="0.9"/>
<line x1="429.2" y1="329" x2="558.5" y2="329" stroke="#777" stroke-width="0.9"/>
<line x1="430.30" y1="329" x2="430.30" y2="332.3" stroke="#777" stroke-width="0.9"/>
<text x="432.80" y="346" font-size="11" font-weight="normal" text-anchor="middle" fill="#000" >0</text>
<line x1="455.04" y1="329" x2="455.04" y2="332.3" stroke="#777" stroke-width="0.9"/>
<text x="457.54" y="346" font-size="11" font-weight="normal" text-anchor="middle" fill="#000" >5</text>
<line x1="479.78" y1="329" x2="479.78" y2="332.3" stroke="#777" stroke-width="0.9"/>
<text x="482.28" y="346" font-size="11" font-weight="normal" text-anchor="middle" fill="#000" >10</text>
<line x1="504.52" y1="329" x2="504.52" y2="332.3" stroke="#777" stroke-width="0.9"/>
<text x="507.02" y="346" font-size="11" font-weight="normal" text-anchor="middle" fill="#000" >15</text>
<line x1="529.26" y1="329" x2="529.26" y2="332.3" stroke="#777" stroke-width="0.9"/>
<text x="531.76" y="346" font-size="11" font-weight="normal" text-anchor="middle" fill="#000" >20</text>
<line x1="554.00" y1="329" x2="554.00" y2="332.3" stroke="#777" stroke-width="0.9"/>
<text x="556.50" y="346" font-size="11" font-weight="normal" text-anchor="middle" fill="#000" >25</text>
<text x="498.3" y="361.3" font-size="11" font-weight="normal" text-anchor="middle" fill="#000" >SEC Elution Fraction</text>
<text x="0" y="0" font-size="11" text-anchor="middle" transform="translate(420.6,180.2) rotate(-90)">RFU (a.u.)</text>
<text x="474" y="54.6" font-size="11" font-weight="normal" text-anchor="start" fill="#8e8e8e" >Vesicle</text>
<text x="474" y="67.5" font-size="11" font-weight="normal" text-anchor="start" fill="#8e8e8e" >elution</text>
<line x1="432.5" y1="51" x2="439.5" y2="51" stroke="#707070" stroke-width="3" stroke-linecap="round"/>
<text x="439.6" y="54.6" font-size="11" font-weight="normal" text-anchor="start" fill="#000" >None</text>
<line x1="432.5" y1="74" x2="439.5" y2="74" stroke="#4b1790" stroke-width="3" stroke-linecap="round"/>
<text x="439.6" y="77.6" font-size="11" font-weight="normal" text-anchor="start" fill="#000" >PglB</text>
<line x1="432.5" y1="97" x2="439.5" y2="97" stroke="#a29cf7" stroke-width="3" stroke-linecap="round"/>
<text x="439.6" y="100.6" font-size="11" font-weight="normal" text-anchor="start" fill="#000" >PglO</text>
<polyline points="436.5,129.5 448.4,129.5 452.5,130.5 467.8,130.5 472.9,129.5 483.1,129.5 491.3,127.9 497.5,125.4 507.7,124.6 512.8,121.7 517.9,115.2 524,100.9 531.2,87.6 541.4,73.3 546.5,76.4 552.2,74.3" fill="none" stroke="#6e6e6e" stroke-width="3" stroke-linejoin="round" stroke-linecap="round"/>
<polyline points="436.3,225.8 448.2,227.7 476.4,226.8 482.6,220.5 486.4,164.1 492,165 496.7,198.6 502,211 507,215.8 514,212.7 525,205 537.4,200.2 546.8,198.6 552.2,200.8" fill="none" stroke="#4b1790" stroke-width="2.8" stroke-linejoin="round" stroke-linecap="round"/>
<polyline points="436.6,321.5 443.5,323.9 452.5,325.4 458.5,323.9 467.4,323.9 473.4,322.4 477.9,322.4 482.4,320.9 492,240 496.5,233.4 506.4,281.9 511.5,301.4 521.4,303.5 531.9,295.4 539.3,291.5 546.8,287.3 552.2,288.5" fill="none" stroke="#9c96f8" stroke-width="3" stroke-linejoin="round" stroke-linecap="round"/>
<line x1="577.20" y1="78.30" x2="580.70" y2="78.30" stroke="#6a6a6a" stroke-width="0.45"/>
<line x1="577.17" y1="79.01" x2="580.65" y2="79.35" stroke="#6a6a6a" stroke-width="0.45"/>
<line x1="577.06" y1="79.70" x2="580.49" y2="80.39" stroke="#6a6a6a" stroke-width="0.45"/>
<line x1="576.89" y1="80.39" x2="580.24" y2="81.41" stroke="#6a6a6a" stroke-width="0.45"/>
<line x1="576.65" y1="81.06" x2="579.89" y2="82.39" stroke="#6a6a6a" stroke-width="0.45"/>
<line x1="576.35" y1="81.69" x2="579.44" y2="83.34" stroke="#6a6a6a" stroke-width="0.45"/>
<line x1="575.99" y1="82.30" x2="578.90" y2="84.24" stroke="#6a6a6a" stroke-width="0.45"/>
<line x1="575.57" y1="82.87" x2="578.27" y2="85.09" stroke="#6a6a6a" stroke-width="0.45"/>
<line x1="575.09" y1="83.39" x2="577.57" y2="85.87" stroke="#6a6a6a" stroke-width="0.45"/>
<line x1="574.57" y1="83.87" x2="576.79" y2="86.57" stroke="#6a6a6a" stroke-width="0.45"/>
<line x1="574.00" y1="84.29" x2="575.94" y2="87.20" stroke="#6a6a6a" stroke-width="0.45"/>
<line x1="573.39" y1="84.65" x2="575.04" y2="87.74" stroke="#6a6a6a" stroke-width="0.45"/>
<line x1="572.76" y1="84.95" x2="574.09" y2="88.19" stroke="#6a6a6a" stroke-width="0.45"/>
<line x1="572.09" y1="85.19" x2="573.11" y2="88.54" stroke="#6a6a6a" stroke-width="0.45"/>
<line x1="571.40" y1="85.36" x2="572.09" y2="88.79" stroke="#6a6a6a" stroke-width="0.45"/>
<line x1="570.71" y1="85.47" x2="571.05" y2="88.95" stroke="#6a6a6a" stroke-width="0.45"/>
<line x1="570.00" y1="85.50" x2="570.00" y2="89.00" stroke="#6a6a6a" stroke-width="0.45"/>
<line x1="569.29" y1="85.47" x2="568.95" y2="88.95" stroke="#6a6a6a" stroke-width="0.45"/>
<line x1="568.60" y1="85.36" x2="567.91" y2="88.79" stroke="#6a6a6a" stroke-width="0.45"/>
<line x1="567.91" y1="85.19" x2="566.89" y2="88.54" stroke="#6a6a6a" stroke-width="0.45"/>
<line x1="567.24" y1="84.95" x2="565.91" y2="88.19" stroke="#6a6a6a" stroke-width="0.45"/>
<line x1="566.61" y1="84.65" x2="564.96" y2="87.74" stroke="#6a6a6a" stroke-width="0.45"/>
<line x1="566.00" y1="84.29" x2="564.06" y2="87.20" stroke="#6a6a6a" stroke-width="0.45"/>
<line x1="565.43" y1="83.87" x2="563.21" y2="86.57" stroke="#6a6a6a" stroke-width="0.45"/>
<line x1="564.91" y1="83.39" x2="562.43" y2="85.87" stroke="#6a6a6a" stroke-width="0.45"/>
<line x1="564.43" y1="82.87" x2="561.73" y2="85.09" stroke="#6a6a6a" stroke-width="0.45"/>
<line x1="564.01" y1="82.30" x2="561.10" y2="84.24" stroke="#6a6a6a" stroke-width="0.45"/>
<line x1="563.65" y1="81.69" x2="560.56" y2="83.34" stroke="#6a6a6a" stroke-width="0.45"/>
<line x1="563.35" y1="81.06" x2="560.11" y2="82.39" stroke="#6a6a6a" stroke-width="0.45"/>
<line x1="563.11" y1="80.39" x2="559.76" y2="81.41" stroke="#6a6a6a" stroke-width="0.45"/>
<line x1="562.94" y1="79.70" x2="559.51" y2="80.39" stroke="#6a6a6a" stroke-width="0.45"/>
<line x1="562.83" y1="79.01" x2="559.35" y2="79.35" stroke="#6a6a6a" stroke-width="0.45"/>
<line x1="562.80" y1="78.30" x2="559.30" y2="78.30" stroke="#6a6a6a" stroke-width="0.45"/>
<line x1="562.83" y1="77.59" x2="559.35" y2="77.25" stroke="#6a6a6a" stroke-width="0.45"/>
<line x1="562.94" y1="76.90" x2="559.51" y2="76.21" stroke="#6a6a6a" stroke-width="0.45"/>
<line x1="563.11" y1="76.21" x2="559.76" y2="75.19" stroke="#6a6a6a" stroke-width="0.45"/>
<line x1="563.35" y1="75.54" x2="560.11" y2="74.21" stroke="#6a6a6a" stroke-width="0.45"/>
<line x1="563.65" y1="74.91" x2="560.56" y2="73.26" stroke="#6a6a6a" stroke-width="0.45"/>
<line x1="564.01" y1="74.30" x2="561.10" y2="72.36" stroke="#6a6a6a" stroke-width="0.45"/>
<line x1="564.43" y1="73.73" x2="561.73" y2="71.51" stroke="#6a6a6a" stroke-width="0.45"/>
<line x1="564.91" y1="73.21" x2="562.43" y2="70.73" stroke="#6a6a6a" stroke-width="0.45"/>
<line x1="565.43" y1="72.73" x2="563.21" y2="70.03" stroke="#6a6a6a" stroke-width="0.45"/>
<line x1="566.00" y1="72.31" x2="564.06" y2="69.40" stroke="#6a6a6a" stroke-width="0.45"/>
<line x1="566.61" y1="71.95" x2="564.96" y2="68.86" stroke="#6a6a6a" stroke-width="0.45"/>
<line x1="567.24" y1="71.65" x2="565.91" y2="68.41" stroke="#6a6a6a" stroke-width="0.45"/>
<line x1="567.91" y1="71.41" x2="566.89" y2="68.06" stroke="#6a6a6a" stroke-width="0.45"/>
<line x1="568.60" y1="71.24" x2="567.91" y2="67.81" stroke="#6a6a6a" stroke-width="0.45"/>
<line x1="569.29" y1="71.13" x2="568.95" y2="67.65" stroke="#6a6a6a" stroke-width="0.45"/>
<line x1="570.00" y1="71.10" x2="570.00" y2="67.60" stroke="#6a6a6a" stroke-width="0.45"/>
<line x1="570.71" y1="71.13" x2="571.05" y2="67.65" stroke="#6a6a6a" stroke-width="0.45"/>
<line x1="571.40" y1="71.24" x2="572.09" y2="67.81" stroke="#6a6a6a" stroke-width="0.45"/>
<line x1="572.09" y1="71.41" x2="573.11" y2="68.06" stroke="#6a6a6a" stroke-width="0.45"/>
<line x1="572.76" y1="71.65" x2="574.09" y2="68.41" stroke="#6a6a6a" stroke-width="0.45"/>
<line x1="573.39" y1="71.95" x2="575.04" y2="68.86" stroke="#6a6a6a" stroke-width="0.45"/>
<line x1="574.00" y1="72.31" x2="575.94" y2="69.40" stroke="#6a6a6a" stroke-width="0.45"/>
<line x1="574.57" y1="72.73" x2="576.79" y2="70.03" stroke="#6a6a6a" stroke-width="0.45"/>
<line x1="575.09" y1="73.21" x2="577.57" y2="70.73" stroke="#6a6a6a" stroke-width="0.45"/>
<line x1="575.57" y1="73.73" x2="578.27" y2="71.51" stroke="#6a6a6a" stroke-width="0.45"/>
<line x1="575.99" y1="74.30" x2="578.90" y2="72.36" stroke="#6a6a6a" stroke-width="0.45"/>
<line x1="576.35" y1="74.91" x2="579.44" y2="73.26" stroke="#6a6a6a" stroke-width="0.45"/>
<line x1="576.65" y1="75.54" x2="579.89" y2="74.21" stroke="#6a6a6a" stroke-width="0.45"/>
<line x1="576.89" y1="76.21" x2="580.24" y2="75.19" stroke="#6a6a6a" stroke-width="0.45"/>
<line x1="577.06" y1="76.90" x2="580.49" y2="76.21" stroke="#6a6a6a" stroke-width="0.45"/>
<line x1="577.17" y1="77.59" x2="580.65" y2="77.25" stroke="#6a6a6a" stroke-width="0.45"/>
<circle cx="570" cy="78.3" r="10.6" fill="none" stroke="#505050" stroke-width="0.8" stroke-dasharray="0.9 0.6"/>
<circle cx="570" cy="78.3" r="7.4" fill="none" stroke="#505050" stroke-width="0.8" stroke-dasharray="0.9 0.6"/>
<circle cx="570" cy="78.3" r="6.9" fill="#fff"/>
<circle cx="570" cy="78.3" r="5.9" fill="#cbcbcb" stroke="#b0b0b0" stroke-width="0.5"/>
<polyline points="580.5,71.7 585.3,71.7 585.3,86.5 580.5,86.5" fill="none" stroke="#c4c4c4" stroke-width="0.7"/>
<line x1="585.3" y1="71.7" x2="607" y2="61.5" stroke="#c4c4c4" stroke-width="0.7"/>
<line x1="585.3" y1="86.5" x2="608.3" y2="107.4" stroke="#c4c4c4" stroke-width="0.7"/>
<ellipse cx="637.2" cy="85.2" rx="43" ry="36" fill="#fff" stroke="#c8c8c8" stroke-width="0.8"/>
<polygon points="599.8,72.0 610.5,65.8 610.5,97.0 603.5,102.0" fill="#999"/>
<path d="M662.0,79.5 L675.0,74.4 L675.0,95.5 Q661.0,99.0 656.3,114.5 L654.5,96.0 Z" fill="#999"/>
<polyline points="602.50,82.00 603.20,86.78 601.80,91.72 603.00,96.50" fill="none" stroke="#2a2a2a" stroke-width="0.5"/>
<polyline points="603.93,82.20 604.63,86.97 603.23,91.93 604.31,96.70" fill="none" stroke="#2a2a2a" stroke-width="0.5"/>
<polyline points="605.37,82.39 606.07,87.17 604.67,92.13 605.62,96.91" fill="none" stroke="#2a2a2a" stroke-width="0.5"/>
<polyline points="606.80,82.59 607.50,87.37 606.10,92.33 606.94,97.11" fill="none" stroke="#2a2a2a" stroke-width="0.5"/>
<polyline points="608.23,82.79 608.93,87.57 607.53,92.53 608.25,97.31" fill="none" stroke="#2a2a2a" stroke-width="0.5"/>
<polyline points="609.67,82.98 610.37,87.77 608.97,92.73 609.56,97.51" fill="none" stroke="#2a2a2a" stroke-width="0.5"/>
<polyline points="611.10,83.18 611.80,87.97 610.40,92.93 610.87,97.72" fill="none" stroke="#2a2a2a" stroke-width="0.5"/>
<polyline points="612.53,83.38 613.23,88.17 611.83,93.13 612.18,97.92" fill="none" stroke="#2a2a2a" stroke-width="0.5"/>
<polyline points="613.97,83.59 614.67,88.38 613.27,93.34 613.50,98.13" fill="none" stroke="#2a2a2a" stroke-width="0.5"/>
<polyline points="615.40,83.79 616.10,88.59 614.70,93.55 614.81,98.34" fill="none" stroke="#2a2a2a" stroke-width="0.5"/>
<polyline points="616.83,84.00 617.53,88.80 616.13,93.76 616.12,98.56" fill="none" stroke="#2a2a2a" stroke-width="0.5"/>
<polyline points="618.26,84.21 618.96,89.01 617.56,93.97 617.43,98.77" fill="none" stroke="#2a2a2a" stroke-width="0.5"/>
<polyline points="619.69,84.42 620.39,89.22 618.99,94.19 618.74,98.98" fill="none" stroke="#2a2a2a" stroke-width="0.5"/>
<polyline points="621.12,84.63 621.82,89.43 620.42,94.40 620.05,99.19" fill="none" stroke="#2a2a2a" stroke-width="0.5"/>
<polyline points="622.56,84.84 623.26,89.64 621.86,94.61 621.36,99.41" fill="none" stroke="#2a2a2a" stroke-width="0.5"/>
<polyline points="623.99,85.05 624.69,89.85 623.29,94.82 622.67,99.62" fill="none" stroke="#2a2a2a" stroke-width="0.5"/>
<polyline points="625.41,85.29 626.11,90.08 624.71,95.04 623.98,99.83" fill="none" stroke="#2a2a2a" stroke-width="0.5"/>
<polyline points="626.83,85.59 627.53,90.36 626.13,95.30 625.29,100.06" fill="none" stroke="#2a2a2a" stroke-width="0.5"/>
<polyline points="628.24,85.90 628.94,90.65 627.54,95.57 626.59,100.32" fill="none" stroke="#2a2a2a" stroke-width="0.5"/>
<polyline points="629.66,86.21 630.36,90.94 628.96,95.85 627.89,100.58" fill="none" stroke="#2a2a2a" stroke-width="0.5"/>
<polyline points="631.07,86.51 631.77,91.23 630.37,96.12 629.19,100.84" fill="none" stroke="#2a2a2a" stroke-width="0.5"/>
<polyline points="632.48,86.82 633.18,91.52 631.78,96.40 630.49,101.10" fill="none" stroke="#2a2a2a" stroke-width="0.5"/>
<polyline points="633.90,87.12 634.60,91.81 633.20,96.68 631.80,101.36" fill="none" stroke="#2a2a2a" stroke-width="0.5"/>
<polyline points="635.31,87.43 636.01,92.09 634.61,96.95 633.10,101.62" fill="none" stroke="#2a2a2a" stroke-width="0.5"/>
<polyline points="636.73,87.73 637.43,92.38 636.03,97.23 634.40,101.88" fill="none" stroke="#2a2a2a" stroke-width="0.5"/>
<polyline points="638.13,88.09 638.83,92.71 637.43,97.52 635.70,102.14" fill="none" stroke="#2a2a2a" stroke-width="0.5"/>
<polyline points="639.51,88.52 640.21,93.08 638.81,97.84 637.00,102.40" fill="none" stroke="#2a2a2a" stroke-width="0.5"/>
<polyline points="640.89,88.94 641.59,93.46 640.19,98.19 638.29,102.71" fill="none" stroke="#2a2a2a" stroke-width="0.5"/>
<polyline points="642.28,89.36 642.98,93.85 641.58,98.56 639.58,103.05" fill="none" stroke="#2a2a2a" stroke-width="0.5"/>
<polyline points="643.66,89.78 644.36,94.25 642.96,98.93 640.86,103.40" fill="none" stroke="#2a2a2a" stroke-width="0.5"/>
<polyline points="645.05,90.21 645.75,94.64 644.35,99.30 642.14,103.74" fill="none" stroke="#2a2a2a" stroke-width="0.5"/>
<polyline points="646.40,90.70 647.10,95.08 645.70,99.70 643.42,104.08" fill="none" stroke="#2a2a2a" stroke-width="0.5"/>
<polyline points="647.70,91.35 648.40,95.62 647.00,100.15 644.71,104.42" fill="none" stroke="#2a2a2a" stroke-width="0.5"/>
<polyline points="648.99,91.99 649.69,96.20 648.29,100.67 645.95,104.88" fill="none" stroke="#2a2a2a" stroke-width="0.5"/>
<polyline points="650.28,92.64 650.98,96.80 649.58,101.22 647.18,105.37" fill="none" stroke="#2a2a2a" stroke-width="0.5"/>
<polyline points="651.58,93.29 652.28,97.39 650.88,101.76 648.42,105.87" fill="none" stroke="#2a2a2a" stroke-width="0.5"/>
<polyline points="652.73,94.14 653.43,98.12 652.03,102.38 649.65,106.36" fill="none" stroke="#2a2a2a" stroke-width="0.5"/>
<polyline points="653.82,95.09 654.52,98.97 653.12,103.15 650.79,107.03" fill="none" stroke="#2a2a2a" stroke-width="0.5"/>
<polyline points="654.91,96.05 655.61,99.85 654.21,103.96 651.90,107.76" fill="none" stroke="#2a2a2a" stroke-width="0.5"/>
<polyline points="656.00,97.00 656.70,100.72 655.30,104.78 653.00,108.50" fill="none" stroke="#2a2a2a" stroke-width="0.5"/>
<circle cx="609.30" cy="69.60" r="1.95" fill="#e4e4e4" stroke="#3a3a3a" stroke-width="0.6"/>
<circle cx="613.61" cy="67.40" r="1.95" fill="#e4e4e4" stroke="#3a3a3a" stroke-width="0.6"/>
<circle cx="618.22" cy="65.98" r="1.95" fill="#e4e4e4" stroke="#3a3a3a" stroke-width="0.6"/>
<circle cx="622.92" cy="64.94" r="1.95" fill="#e4e4e4" stroke="#3a3a3a" stroke-width="0.6"/>
<circle cx="627.76" cy="64.72" r="1.95" fill="#e4e4e4" stroke="#3a3a3a" stroke-width="0.6"/>
<circle cx="632.58" cy="64.82" r="1.95" fill="#e4e4e4" stroke="#3a3a3a" stroke-width="0.6"/>
<circle cx="637.39" cy="65.31" r="1.95" fill="#e4e4e4" stroke="#3a3a3a" stroke-width="0.6"/>
<circle cx="642.13" cy="66.24" r="1.95" fill="#e4e4e4" stroke="#3a3a3a" stroke-width="0.6"/>
<circle cx="646.81" cy="67.46" r="1.95" fill="#e4e4e4" stroke="#3a3a3a" stroke-width="0.6"/>
<circle cx="651.37" cy="69.05" r="1.95" fill="#e4e4e4" stroke="#3a3a3a" stroke-width="0.6"/>
<circle cx="655.89" cy="70.78" r="1.95" fill="#e4e4e4" stroke="#3a3a3a" stroke-width="0.6"/>
<circle cx="660.01" cy="73.26" r="1.95" fill="#e4e4e4" stroke="#3a3a3a" stroke-width="0.6"/>
<circle cx="664.00" cy="76.00" r="1.95" fill="#e4e4e4" stroke="#3a3a3a" stroke-width="0.6"/>
<circle cx="610.13" cy="71.06" r="1.95" fill="#e4e4e4" stroke="#3a3a3a" stroke-width="0.6"/>
<circle cx="614.62" cy="69.71" r="1.95" fill="#e4e4e4" stroke="#3a3a3a" stroke-width="0.6"/>
<circle cx="619.27" cy="68.77" r="1.95" fill="#e4e4e4" stroke="#3a3a3a" stroke-width="0.6"/>
<circle cx="624.03" cy="68.52" r="1.95" fill="#e4e4e4" stroke="#3a3a3a" stroke-width="0.6"/>
<circle cx="628.83" cy="68.48" r="1.95" fill="#e4e4e4" stroke="#3a3a3a" stroke-width="0.6"/>
<circle cx="633.60" cy="69.02" r="1.95" fill="#e4e4e4" stroke="#3a3a3a" stroke-width="0.6"/>
<circle cx="638.36" cy="69.67" r="1.95" fill="#e4e4e4" stroke="#3a3a3a" stroke-width="0.6"/>
<circle cx="643.02" cy="70.85" r="1.95" fill="#e4e4e4" stroke="#3a3a3a" stroke-width="0.6"/>
<circle cx="647.64" cy="72.19" r="1.95" fill="#e4e4e4" stroke="#3a3a3a" stroke-width="0.6"/>
<circle cx="652.15" cy="73.85" r="1.95" fill="#e4e4e4" stroke="#3a3a3a" stroke-width="0.6"/>
<circle cx="656.50" cy="75.86" r="1.95" fill="#e4e4e4" stroke="#3a3a3a" stroke-width="0.6"/>
<circle cx="660.45" cy="78.60" r="1.95" fill="#e4e4e4" stroke="#3a3a3a" stroke-width="0.6"/>
<circle cx="606.58" cy="74.16" r="1.95" fill="#e4e4e4" stroke="#3a3a3a" stroke-width="0.6"/>
<circle cx="611.03" cy="73.10" r="1.95" fill="#e4e4e4" stroke="#3a3a3a" stroke-width="0.6"/>
<circle cx="615.66" cy="72.50" r="1.95" fill="#e4e4e4" stroke="#3a3a3a" stroke-width="0.6"/>
<circle cx="620.34" cy="72.14" r="1.95" fill="#e4e4e4" stroke="#3a3a3a" stroke-width="0.6"/>
<circle cx="625.10" cy="72.29" r="1.95" fill="#e4e4e4" stroke="#3a3a3a" stroke-width="0.6"/>
<circle cx="629.85" cy="72.64" r="1.95" fill="#e4e4e4" stroke="#3a3a3a" stroke-width="0.6"/>
<circle cx="634.58" cy="73.33" r="1.95" fill="#e4e4e4" stroke="#3a3a3a" stroke-width="0.6"/>
<circle cx="639.26" cy="74.28" r="1.95" fill="#e4e4e4" stroke="#3a3a3a" stroke-width="0.6"/>
<circle cx="643.89" cy="75.48" r="1.95" fill="#e4e4e4" stroke="#3a3a3a" stroke-width="0.6"/>
<circle cx="648.43" cy="76.99" r="1.95" fill="#e4e4e4" stroke="#3a3a3a" stroke-width="0.6"/>
<circle cx="652.87" cy="78.73" r="1.95" fill="#e4e4e4" stroke="#3a3a3a" stroke-width="0.6"/>
<circle cx="656.99" cy="81.12" r="1.95" fill="#e4e4e4" stroke="#3a3a3a" stroke-width="0.6"/>
<circle cx="660.80" cy="84.00" r="1.95" fill="#e4e4e4" stroke="#3a3a3a" stroke-width="0.6"/>
<circle cx="607.48" cy="76.19" r="1.95" fill="#e4e4e4" stroke="#3a3a3a" stroke-width="0.6"/>
<circle cx="612.05" cy="75.84" r="1.95" fill="#e4e4e4" stroke="#3a3a3a" stroke-width="0.6"/>
<circle cx="616.71" cy="75.69" r="1.95" fill="#e4e4e4" stroke="#3a3a3a" stroke-width="0.6"/>
<circle cx="621.41" cy="75.91" r="1.95" fill="#e4e4e4" stroke="#3a3a3a" stroke-width="0.6"/>
<circle cx="626.14" cy="76.23" r="1.95" fill="#e4e4e4" stroke="#3a3a3a" stroke-width="0.6"/>
<circle cx="630.83" cy="76.94" r="1.95" fill="#e4e4e4" stroke="#3a3a3a" stroke-width="0.6"/>
<circle cx="635.51" cy="77.76" r="1.95" fill="#e4e4e4" stroke="#3a3a3a" stroke-width="0.6"/>
<circle cx="640.14" cy="78.85" r="1.95" fill="#e4e4e4" stroke="#3a3a3a" stroke-width="0.6"/>
<circle cx="644.70" cy="80.20" r="1.95" fill="#e4e4e4" stroke="#3a3a3a" stroke-width="0.6"/>
<circle cx="649.20" cy="81.74" r="1.95" fill="#e4e4e4" stroke="#3a3a3a" stroke-width="0.6"/>
<circle cx="653.47" cy="83.79" r="1.95" fill="#e4e4e4" stroke="#3a3a3a" stroke-width="0.6"/>
<circle cx="657.34" cy="86.52" r="1.95" fill="#e4e4e4" stroke="#3a3a3a" stroke-width="0.6"/>
<circle cx="603.86" cy="78.72" r="1.95" fill="#e4e4e4" stroke="#3a3a3a" stroke-width="0.6"/>
<circle cx="608.45" cy="78.79" r="1.95" fill="#e4e4e4" stroke="#3a3a3a" stroke-width="0.6"/>
<circle cx="613.10" cy="79.02" r="1.95" fill="#e4e4e4" stroke="#3a3a3a" stroke-width="0.6"/>
<circle cx="617.76" cy="79.35" r="1.95" fill="#e4e4e4" stroke="#3a3a3a" stroke-width="0.6"/>
<circle cx="622.45" cy="79.85" r="1.95" fill="#e4e4e4" stroke="#3a3a3a" stroke-width="0.6"/>
<circle cx="627.13" cy="80.46" r="1.95" fill="#e4e4e4" stroke="#3a3a3a" stroke-width="0.6"/>
<circle cx="631.77" cy="81.35" r="1.95" fill="#e4e4e4" stroke="#3a3a3a" stroke-width="0.6"/>
<circle cx="636.39" cy="82.33" r="1.95" fill="#e4e4e4" stroke="#3a3a3a" stroke-width="0.6"/>
<circle cx="640.97" cy="83.50" r="1.95" fill="#e4e4e4" stroke="#3a3a3a" stroke-width="0.6"/>
<circle cx="645.48" cy="84.92" r="1.95" fill="#e4e4e4" stroke="#3a3a3a" stroke-width="0.6"/>
<circle cx="649.85" cy="86.69" r="1.95" fill="#e4e4e4" stroke="#3a3a3a" stroke-width="0.6"/>
<circle cx="653.97" cy="88.98" r="1.95" fill="#e4e4e4" stroke="#3a3a3a" stroke-width="0.6"/>
<circle cx="657.60" cy="92.00" r="1.95" fill="#e4e4e4" stroke="#3a3a3a" stroke-width="0.6"/>
<circle cx="604.83" cy="81.32" r="1.95" fill="#e4e4e4" stroke="#3a3a3a" stroke-width="0.6"/>
<circle cx="609.49" cy="81.96" r="1.95" fill="#e4e4e4" stroke="#3a3a3a" stroke-width="0.6"/>
<circle cx="614.14" cy="82.61" r="1.95" fill="#e4e4e4" stroke="#3a3a3a" stroke-width="0.6"/>
<circle cx="618.80" cy="83.29" r="1.95" fill="#e4e4e4" stroke="#3a3a3a" stroke-width="0.6"/>
<circle cx="623.45" cy="83.97" r="1.95" fill="#e4e4e4" stroke="#3a3a3a" stroke-width="0.6"/>
<circle cx="628.07" cy="84.86" r="1.95" fill="#e4e4e4" stroke="#3a3a3a" stroke-width="0.6"/>
<circle cx="632.66" cy="85.85" r="1.95" fill="#e4e4e4" stroke="#3a3a3a" stroke-width="0.6"/>
<circle cx="637.26" cy="86.85" r="1.95" fill="#e4e4e4" stroke="#3a3a3a" stroke-width="0.6"/>
<circle cx="641.76" cy="88.20" r="1.95" fill="#e4e4e4" stroke="#3a3a3a" stroke-width="0.6"/>
<circle cx="646.24" cy="89.62" r="1.95" fill="#e4e4e4" stroke="#3a3a3a" stroke-width="0.6"/>
<circle cx="650.45" cy="91.72" r="1.95" fill="#e4e4e4" stroke="#3a3a3a" stroke-width="0.6"/>
<circle cx="654.23" cy="94.45" r="1.95" fill="#e4e4e4" stroke="#3a3a3a" stroke-width="0.6"/>
<circle cx="603.00" cy="97.50" r="1.95" fill="#e4e4e4" stroke="#3a3a3a" stroke-width="0.6"/>
<circle cx="606.65" cy="98.07" r="1.95" fill="#e4e4e4" stroke="#3a3a3a" stroke-width="0.6"/>
<circle cx="610.31" cy="98.63" r="1.95" fill="#e4e4e4" stroke="#3a3a3a" stroke-width="0.6"/>
<circle cx="613.96" cy="99.21" r="1.95" fill="#e4e4e4" stroke="#3a3a3a" stroke-width="0.6"/>
<circle cx="617.61" cy="99.80" r="1.95" fill="#e4e4e4" stroke="#3a3a3a" stroke-width="0.6"/>
<circle cx="621.26" cy="100.39" r="1.95" fill="#e4e4e4" stroke="#3a3a3a" stroke-width="0.6"/>
<circle cx="624.91" cy="100.99" r="1.95" fill="#e4e4e4" stroke="#3a3a3a" stroke-width="0.6"/>
<circle cx="628.54" cy="101.71" r="1.95" fill="#e4e4e4" stroke="#3a3a3a" stroke-width="0.6"/>
<circle cx="632.17" cy="102.43" r="1.95" fill="#e4e4e4" stroke="#3a3a3a" stroke-width="0.6"/>
<circle cx="635.79" cy="103.16" r="1.95" fill="#e4e4e4" stroke="#3a3a3a" stroke-width="0.6"/>
<circle cx="639.39" cy="104.00" r="1.95" fill="#e4e4e4" stroke="#3a3a3a" stroke-width="0.6"/>
<circle cx="642.97" cy="104.96" r="1.95" fill="#e4e4e4" stroke="#3a3a3a" stroke-width="0.6"/>
<circle cx="646.48" cy="106.09" r="1.95" fill="#e4e4e4" stroke="#3a3a3a" stroke-width="0.6"/>
<circle cx="649.91" cy="107.47" r="1.95" fill="#e4e4e4" stroke="#3a3a3a" stroke-width="0.6"/>
<circle cx="653.00" cy="109.50" r="1.95" fill="#e4e4e4" stroke="#3a3a3a" stroke-width="0.6"/>
<polyline points="675,24 662.4,40.9 653,43.6" fill="none" stroke="#3ab54a" stroke-width="2.7" stroke-linejoin="miter"/>
<polyline points="652.1,40.3 660.3,38.2" fill="none" stroke="#3ab54a" stroke-width="2.7" stroke-linejoin="miter"/>
<polyline points="678.8,27.3 665.7,43.6 665.9,53.6" fill="none" stroke="#3ab54a" stroke-width="2.7" stroke-linejoin="miter"/>
<polyline points="669.4,45.8 669.9,54.2" fill="none" stroke="#3ab54a" stroke-width="2.7" stroke-linejoin="miter"/>
<line x1="649.5" y1="56.8" x2="661.8" y2="52" stroke="#7a7a7a" stroke-width="1.6"/>
<line x1="655.7" y1="48" x2="657" y2="61" stroke="#7a7a7a" stroke-width="1.6"/>
<line x1="578.70" y1="180.40" x2="582.20" y2="180.40" stroke="#6a6a6a" stroke-width="0.45"/>
<line x1="578.67" y1="181.11" x2="582.15" y2="181.45" stroke="#6a6a6a" stroke-width="0.45"/>
<line x1="578.56" y1="181.80" x2="581.99" y2="182.49" stroke="#6a6a6a" stroke-width="0.45"/>
<line x1="578.39" y1="182.49" x2="581.74" y2="183.51" stroke="#6a6a6a" stroke-width="0.45"/>
<line x1="578.15" y1="183.16" x2="581.39" y2="184.49" stroke="#6a6a6a" stroke-width="0.45"/>
<line x1="577.85" y1="183.79" x2="580.94" y2="185.44" stroke="#6a6a6a" stroke-width="0.45"/>
<line x1="577.49" y1="184.40" x2="580.40" y2="186.34" stroke="#6a6a6a" stroke-width="0.45"/>
<line x1="577.07" y1="184.97" x2="579.77" y2="187.19" stroke="#6a6a6a" stroke-width="0.45"/>
<line x1="576.59" y1="185.49" x2="579.07" y2="187.97" stroke="#6a6a6a" stroke-width="0.45"/>
<line x1="576.07" y1="185.97" x2="578.29" y2="188.67" stroke="#6a6a6a" stroke-width="0.45"/>
<line x1="575.50" y1="186.39" x2="577.44" y2="189.30" stroke="#6a6a6a" stroke-width="0.45"/>
<line x1="574.89" y1="186.75" x2="576.54" y2="189.84" stroke="#6a6a6a" stroke-width="0.45"/>
<line x1="574.26" y1="187.05" x2="575.59" y2="190.29" stroke="#6a6a6a" stroke-width="0.45"/>
<line x1="573.59" y1="187.29" x2="574.61" y2="190.64" stroke="#6a6a6a" stroke-width="0.45"/>
<line x1="572.90" y1="187.46" x2="573.59" y2="190.89" stroke="#6a6a6a" stroke-width="0.45"/>
<line x1="572.21" y1="187.57" x2="572.55" y2="191.05" stroke="#6a6a6a" stroke-width="0.45"/>
<line x1="571.50" y1="187.60" x2="571.50" y2="191.10" stroke="#6a6a6a" stroke-width="0.45"/>
<line x1="570.79" y1="187.57" x2="570.45" y2="191.05" stroke="#6a6a6a" stroke-width="0.45"/>
<line x1="570.10" y1="187.46" x2="569.41" y2="190.89" stroke="#6a6a6a" stroke-width="0.45"/>
<line x1="569.41" y1="187.29" x2="568.39" y2="190.64" stroke="#6a6a6a" stroke-width="0.45"/>
<line x1="568.74" y1="187.05" x2="567.41" y2="190.29" stroke="#6a6a6a" stroke-width="0.45"/>
<line x1="568.11" y1="186.75" x2="566.46" y2="189.84" stroke="#6a6a6a" stroke-width="0.45"/>
<line x1="567.50" y1="186.39" x2="565.56" y2="189.30" stroke="#6a6a6a" stroke-width="0.45"/>
<line x1="566.93" y1="185.97" x2="564.71" y2="188.67" stroke="#6a6a6a" stroke-width="0.45"/>
<line x1="566.41" y1="185.49" x2="563.93" y2="187.97" stroke="#6a6a6a" stroke-width="0.45"/>
<line x1="565.93" y1="184.97" x2="563.23" y2="187.19" stroke="#6a6a6a" stroke-width="0.45"/>
<line x1="565.51" y1="184.40" x2="562.60" y2="186.34" stroke="#6a6a6a" stroke-width="0.45"/>
<line x1="565.15" y1="183.79" x2="562.06" y2="185.44" stroke="#6a6a6a" stroke-width="0.45"/>
<line x1="564.85" y1="183.16" x2="561.61" y2="184.49" stroke="#6a6a6a" stroke-width="0.45"/>
<line x1="564.61" y1="182.49" x2="561.26" y2="183.51" stroke="#6a6a6a" stroke-width="0.45"/>
<line x1="564.44" y1="181.80" x2="561.01" y2="182.49" stroke="#6a6a6a" stroke-width="0.45"/>
<line x1="564.33" y1="181.11" x2="560.85" y2="181.45" stroke="#6a6a6a" stroke-width="0.45"/>
<line x1="564.30" y1="180.40" x2="560.80" y2="180.40" stroke="#6a6a6a" stroke-width="0.45"/>
<line x1="564.33" y1="179.69" x2="560.85" y2="179.35" stroke="#6a6a6a" stroke-width="0.45"/>
<line x1="564.44" y1="179.00" x2="561.01" y2="178.31" stroke="#6a6a6a" stroke-width="0.45"/>
<line x1="564.61" y1="178.31" x2="561.26" y2="177.29" stroke="#6a6a6a" stroke-width="0.45"/>
<line x1="564.85" y1="177.64" x2="561.61" y2="176.31" stroke="#6a6a6a" stroke-width="0.45"/>
<line x1="565.15" y1="177.01" x2="562.06" y2="175.36" stroke="#6a6a6a" stroke-width="0.45"/>
<line x1="565.51" y1="176.40" x2="562.60" y2="174.46" stroke="#6a6a6a" stroke-width="0.45"/>
<line x1="565.93" y1="175.83" x2="563.23" y2="173.61" stroke="#6a6a6a" stroke-width="0.45"/>
<line x1="566.41" y1="175.31" x2="563.93" y2="172.83" stroke="#6a6a6a" stroke-width="0.45"/>
<line x1="566.93" y1="174.83" x2="564.71" y2="172.13" stroke="#6a6a6a" stroke-width="0.45"/>
<line x1="567.50" y1="174.41" x2="565.56" y2="171.50" stroke="#6a6a6a" stroke-width="0.45"/>
<line x1="568.11" y1="174.05" x2="566.46" y2="170.96" stroke="#6a6a6a" stroke-width="0.45"/>
<line x1="568.74" y1="173.75" x2="567.41" y2="170.51" stroke="#6a6a6a" stroke-width="0.45"/>
<line x1="569.41" y1="173.51" x2="568.39" y2="170.16" stroke="#6a6a6a" stroke-width="0.45"/>
<line x1="570.10" y1="173.34" x2="569.41" y2="169.91" stroke="#6a6a6a" stroke-width="0.45"/>
<line x1="570.79" y1="173.23" x2="570.45" y2="169.75" stroke="#6a6a6a" stroke-width="0.45"/>
<line x1="571.50" y1="173.20" x2="571.50" y2="169.70" stroke="#6a6a6a" stroke-width="0.45"/>
<line x1="572.21" y1="173.23" x2="572.55" y2="169.75" stroke="#6a6a6a" stroke-width="0.45"/>
<line x1="572.90" y1="173.34" x2="573.59" y2="169.91" stroke="#6a6a6a" stroke-width="0.45"/>
<line x1="573.59" y1="173.51" x2="574.61" y2="170.16" stroke="#6a6a6a" stroke-width="0.45"/>
<line x1="574.26" y1="173.75" x2="575.59" y2="170.51" stroke="#6a6a6a" stroke-width="0.45"/>
<line x1="574.89" y1="174.05" x2="576.54" y2="170.96" stroke="#6a6a6a" stroke-width="0.45"/>
<line x1="575.50" y1="174.41" x2="577.44" y2="171.50" stroke="#6a6a6a" stroke-width="0.45"/>
<line x1="576.07" y1="174.83" x2="578.29" y2="172.13" stroke="#6a6a6a" stroke-width="0.45"/>
<line x1="576.59" y1="175.31" x2="579.07" y2="172.83" stroke="#6a6a6a" stroke-width="0.45"/>
<line x1="577.07" y1="175.83" x2="579.77" y2="173.61" stroke="#6a6a6a" stroke-width="0.45"/>
<line x1="577.49" y1="176.40" x2="580.40" y2="174.46" stroke="#6a6a6a" stroke-width="0.45"/>
<line x1="577.85" y1="177.01" x2="580.94" y2="175.36" stroke="#6a6a6a" stroke-width="0.45"/>
<line x1="578.15" y1="177.64" x2="581.39" y2="176.31" stroke="#6a6a6a" stroke-width="0.45"/>
<line x1="578.39" y1="178.31" x2="581.74" y2="177.29" stroke="#6a6a6a" stroke-width="0.45"/>
<line x1="578.56" y1="179.00" x2="581.99" y2="178.31" stroke="#6a6a6a" stroke-width="0.45"/>
<line x1="578.67" y1="179.69" x2="582.15" y2="179.35" stroke="#6a6a6a" stroke-width="0.45"/>
<circle cx="571.5" cy="180.4" r="10.6" fill="none" stroke="#505050" stroke-width="0.8" stroke-dasharray="0.9 0.6"/>
<circle cx="571.5" cy="180.4" r="7.4" fill="none" stroke="#505050" stroke-width="0.8" stroke-dasharray="0.9 0.6"/>
<circle cx="571.5" cy="180.4" r="6.9" fill="#fff"/>
<circle cx="571.5" cy="180.4" r="6.5" fill="#35b44b" stroke="#1e5e2a" stroke-width="0.6"/>
<polyline points="582.0,173.8 586.8,173.8 586.8,188.6 582.0,188.6" fill="none" stroke="#c4c4c4" stroke-width="0.7"/>
<line x1="586.8" y1="173.8" x2="608.5" y2="163.60000000000002" stroke="#c4c4c4" stroke-width="0.7"/>
<line x1="586.8" y1="188.6" x2="609.8" y2="209.5" stroke="#c4c4c4" stroke-width="0.7"/>
<ellipse cx="638.7" cy="187.3" rx="43" ry="36" fill="#fff" stroke="#c8c8c8" stroke-width="0.8"/>
<polygon points="601.3,174.1 612.0,167.9 612.0,199.1 605.0,204.1" fill="#999"/>
<path d="M663.5,181.6 L676.5,176.5 L676.5,197.6 Q662.5,201.1 657.8,216.6 L656.0,198.1 Z" fill="#999"/>
<polygon points="617.12,169.33 620.98,168.22 620.98,177.72 617.12,178.83" fill="url(#cyl)" stroke="#2a0f38" stroke-width="0.5"/>
<ellipse cx="619.05" cy="168.77" rx="1.93" ry="0.9" fill="#a862c4" stroke="#2a0f38" stroke-width="0.4"/>
<polygon points="620.98,168.22 624.90,167.52 624.90,177.02 620.98,177.72" fill="url(#cyl)" stroke="#2a0f38" stroke-width="0.5"/>
<ellipse cx="622.94" cy="167.87" rx="1.96" ry="0.9" fill="#a862c4" stroke="#2a0f38" stroke-width="0.4"/>
<polygon points="624.90,167.52 628.90,167.34 628.90,176.84 624.90,177.02" fill="url(#cyl)" stroke="#2a0f38" stroke-width="0.5"/>
<ellipse cx="626.90" cy="167.43" rx="2.00" ry="0.9" fill="#a862c4" stroke="#2a0f38" stroke-width="0.4"/>
<polygon points="628.90,167.34 632.91,167.30 632.91,176.80 628.90,176.84" fill="url(#cyl)" stroke="#2a0f38" stroke-width="0.5"/>
<ellipse cx="630.91" cy="167.32" rx="2.00" ry="0.9" fill="#a862c4" stroke="#2a0f38" stroke-width="0.4"/>
<polygon points="632.91,167.30 636.90,167.71 636.90,177.21 632.91,176.80" fill="url(#cyl)" stroke="#2a0f38" stroke-width="0.5"/>
<ellipse cx="634.90" cy="167.50" rx="2.00" ry="0.9" fill="#a862c4" stroke="#2a0f38" stroke-width="0.4"/>
<polygon points="636.90,167.71 640.89,168.12 640.89,177.62 636.90,177.21" fill="url(#cyl)" stroke="#2a0f38" stroke-width="0.5"/>
<ellipse cx="638.89" cy="167.91" rx="1.99" ry="0.9" fill="#a862c4" stroke="#2a0f38" stroke-width="0.4"/>
<polygon points="640.89,168.12 644.77,169.14 644.77,178.64 640.89,177.62" fill="url(#cyl)" stroke="#2a0f38" stroke-width="0.5"/>
<ellipse cx="642.83" cy="168.63" rx="1.94" ry="0.9" fill="#a862c4" stroke="#2a0f38" stroke-width="0.4"/>
<polygon points="644.77,169.14 648.65,170.15 648.65,179.65 644.77,178.64" fill="url(#cyl)" stroke="#2a0f38" stroke-width="0.5"/>
<ellipse cx="646.71" cy="169.64" rx="1.94" ry="0.9" fill="#a862c4" stroke="#2a0f38" stroke-width="0.4"/>
<polygon points="648.65,170.15 652.43,171.48 652.43,180.98 648.65,179.65" fill="url(#cyl)" stroke="#2a0f38" stroke-width="0.5"/>
<ellipse cx="650.54" cy="170.82" rx="1.89" ry="0.9" fill="#a862c4" stroke="#2a0f38" stroke-width="0.4"/>
<polygon points="652.43,171.48 656.17,172.91 656.17,182.41 652.43,180.98" fill="url(#cyl)" stroke="#2a0f38" stroke-width="0.5"/>
<ellipse cx="654.30" cy="172.20" rx="1.87" ry="0.9" fill="#a862c4" stroke="#2a0f38" stroke-width="0.4"/>
<polygon points="656.17,172.91 659.75,174.66 659.75,184.16 656.17,182.41" fill="url(#cyl)" stroke="#2a0f38" stroke-width="0.5"/>
<ellipse cx="657.96" cy="173.79" rx="1.79" ry="0.9" fill="#a862c4" stroke="#2a0f38" stroke-width="0.4"/>
<polyline points="604.00,184.10 604.70,188.88 603.30,193.83 604.50,198.60" fill="none" stroke="#2a2a2a" stroke-width="0.5"/>
<polyline points="605.43,184.30 606.13,189.07 604.73,194.03 605.81,198.80" fill="none" stroke="#2a2a2a" stroke-width="0.5"/>
<polyline points="606.87,184.49 607.57,189.27 606.17,194.23 607.12,199.01" fill="none" stroke="#2a2a2a" stroke-width="0.5"/>
<polyline points="608.30,184.69 609.00,189.47 607.60,194.43 608.44,199.21" fill="none" stroke="#2a2a2a" stroke-width="0.5"/>
<polyline points="609.73,184.89 610.43,189.67 609.03,194.63 609.75,199.41" fill="none" stroke="#2a2a2a" stroke-width="0.5"/>
<polyline points="611.17,185.08 611.87,189.87 610.47,194.83 611.06,199.61" fill="none" stroke="#2a2a2a" stroke-width="0.5"/>
<polyline points="612.60,185.28 613.30,190.07 611.90,195.03 612.37,199.82" fill="none" stroke="#2a2a2a" stroke-width="0.5"/>
<polyline points="614.03,185.48 614.73,190.27 613.33,195.23 613.68,200.02" fill="none" stroke="#2a2a2a" stroke-width="0.5"/>
<polyline points="615.47,185.69 616.17,190.48 614.77,195.44 615.00,200.23" fill="none" stroke="#2a2a2a" stroke-width="0.5"/>
<polyline points="616.90,185.89 617.60,190.69 616.20,195.65 616.31,200.44" fill="none" stroke="#2a2a2a" stroke-width="0.5"/>
<polyline points="618.33,186.10 619.03,190.90 617.63,195.86 617.62,200.66" fill="none" stroke="#2a2a2a" stroke-width="0.5"/>
<polyline points="619.76,186.31 620.46,191.11 619.06,196.07 618.93,200.87" fill="none" stroke="#2a2a2a" stroke-width="0.5"/>
<polyline points="621.19,186.52 621.89,191.32 620.49,196.29 620.24,201.08" fill="none" stroke="#4a1a5e" stroke-width="0.5"/>
<polyline points="622.62,186.73 623.32,191.53 621.92,196.50 621.55,201.29" fill="none" stroke="#4a1a5e" stroke-width="0.5"/>
<polyline points="624.06,186.94 624.76,191.74 623.36,196.71 622.86,201.51" fill="none" stroke="#4a1a5e" stroke-width="0.5"/>
<polyline points="625.49,187.15 626.19,191.95 624.79,196.92 624.17,201.72" fill="none" stroke="#4a1a5e" stroke-width="0.5"/>
<polyline points="626.91,187.39 627.61,192.18 626.21,197.14 625.48,201.93" fill="none" stroke="#4a1a5e" stroke-width="0.5"/>
<polyline points="628.33,187.69 629.03,192.46 627.63,197.40 626.79,202.16" fill="none" stroke="#4a1a5e" stroke-width="0.5"/>
<polyline points="629.74,188.00 630.44,192.75 629.04,197.67 628.09,202.42" fill="none" stroke="#4a1a5e" stroke-width="0.5"/>
<polyline points="631.16,188.31 631.86,193.04 630.46,197.95 629.39,202.68" fill="none" stroke="#4a1a5e" stroke-width="0.5"/>
<polyline points="632.57,188.61 633.27,193.33 631.87,198.22 630.69,202.94" fill="none" stroke="#4a1a5e" stroke-width="0.5"/>
<polyline points="633.98,188.92 634.68,193.62 633.28,198.50 631.99,203.20" fill="none" stroke="#4a1a5e" stroke-width="0.5"/>
<polyline points="635.40,189.22 636.10,193.91 634.70,198.78 633.30,203.46" fill="none" stroke="#4a1a5e" stroke-width="0.5"/>
<polyline points="636.81,189.53 637.51,194.19 636.11,199.05 634.60,203.72" fill="none" stroke="#4a1a5e" stroke-width="0.5"/>
<polyline points="638.23,189.83 638.93,194.48 637.53,199.33 635.90,203.98" fill="none" stroke="#4a1a5e" stroke-width="0.5"/>
<polyline points="639.63,190.19 640.33,194.81 638.93,199.62 637.20,204.24" fill="none" stroke="#4a1a5e" stroke-width="0.5"/>
<polyline points="641.01,190.62 641.71,195.18 640.31,199.94 638.50,204.50" fill="none" stroke="#4a1a5e" stroke-width="0.5"/>
<polyline points="642.39,191.04 643.09,195.56 641.69,200.29 639.79,204.81" fill="none" stroke="#4a1a5e" stroke-width="0.5"/>
<polyline points="643.78,191.46 644.48,195.95 643.08,200.66 641.08,205.15" fill="none" stroke="#4a1a5e" stroke-width="0.5"/>
<polyline points="645.16,191.88 645.86,196.35 644.46,201.03 642.36,205.50" fill="none" stroke="#4a1a5e" stroke-width="0.5"/>
<polyline points="646.55,192.31 647.25,196.74 645.85,201.40 643.64,205.84" fill="none" stroke="#4a1a5e" stroke-width="0.5"/>
<polyline points="647.90,192.80 648.60,197.18 647.20,201.80 644.92,206.18" fill="none" stroke="#4a1a5e" stroke-width="0.5"/>
<polyline points="649.20,193.45 649.90,197.72 648.50,202.25 646.21,206.52" fill="none" stroke="#4a1a5e" stroke-width="0.5"/>
<polyline points="650.49,194.09 651.19,198.30 649.79,202.77 647.45,206.98" fill="none" stroke="#4a1a5e" stroke-width="0.5"/>
<polyline points="651.78,194.74 652.48,198.90 651.08,203.32 648.68,207.47" fill="none" stroke="#4a1a5e" stroke-width="0.5"/>
<polyline points="653.08,195.39 653.78,199.49 652.38,203.86 649.92,207.97" fill="none" stroke="#4a1a5e" stroke-width="0.5"/>
<polyline points="654.23,196.24 654.93,200.22 653.53,204.48 651.15,208.46" fill="none" stroke="#4a1a5e" stroke-width="0.5"/>
<polyline points="655.32,197.19 656.02,201.07 654.62,205.25 652.29,209.13" fill="none" stroke="#2a2a2a" stroke-width="0.5"/>
<polyline points="656.41,198.15 657.11,201.95 655.71,206.06 653.40,209.86" fill="none" stroke="#2a2a2a" stroke-width="0.5"/>
<polyline points="657.50,199.10 658.20,202.83 656.80,206.88 654.50,210.60" fill="none" stroke="#2a2a2a" stroke-width="0.5"/>
<polygon points="620.8,187.0 624.2,187.5 627.7,188.1 631.1,188.8 634.5,189.5 637.9,190.3 641.3,191.2 644.6,192.2 648.0,193.3 651.1,194.9 654.1,196.6 652.8,212.0 649.8,210.4 646.8,209.2 643.6,208.3 640.4,207.5 637.1,206.7 633.9,206.1 630.7,205.4 627.4,204.8 624.1,204.2 620.9,203.7" fill="#4e1c64" opacity="0.85"/>
<circle cx="610.80" cy="171.70" r="1.95" fill="#e4e4e4" stroke="#3a3a3a" stroke-width="0.6"/>
<circle cx="615.11" cy="169.50" r="1.95" fill="#e4e4e4" stroke="#3a3a3a" stroke-width="0.6"/>
<circle cx="661.51" cy="175.36" r="1.95" fill="#e4e4e4" stroke="#3a3a3a" stroke-width="0.6"/>
<circle cx="665.50" cy="178.10" r="1.95" fill="#e4e4e4" stroke="#3a3a3a" stroke-width="0.6"/>
<circle cx="611.63" cy="173.16" r="1.95" fill="#e4e4e4" stroke="#3a3a3a" stroke-width="0.6"/>
<circle cx="661.95" cy="180.70" r="1.95" fill="#e4e4e4" stroke="#3a3a3a" stroke-width="0.6"/>
<circle cx="608.08" cy="176.26" r="1.95" fill="#e4e4e4" stroke="#3a3a3a" stroke-width="0.6"/>
<circle cx="612.53" cy="175.20" r="1.95" fill="#e4e4e4" stroke="#3a3a3a" stroke-width="0.6"/>
<circle cx="617.16" cy="174.60" r="1.95" fill="#e4e4e4" stroke="#3a3a3a" stroke-width="0.6"/>
<circle cx="621.84" cy="174.24" r="1.95" fill="#e4e4e4" stroke="#3a3a3a" stroke-width="0.6"/>
<circle cx="626.60" cy="174.39" r="1.95" fill="#e4e4e4" stroke="#3a3a3a" stroke-width="0.6"/>
<circle cx="631.35" cy="174.74" r="1.95" fill="#e4e4e4" stroke="#3a3a3a" stroke-width="0.6"/>
<circle cx="636.08" cy="175.43" r="1.95" fill="#e4e4e4" stroke="#3a3a3a" stroke-width="0.6"/>
<circle cx="640.76" cy="176.38" r="1.95" fill="#e4e4e4" stroke="#3a3a3a" stroke-width="0.6"/>
<circle cx="645.39" cy="177.58" r="1.95" fill="#e4e4e4" stroke="#3a3a3a" stroke-width="0.6"/>
<circle cx="649.93" cy="179.09" r="1.95" fill="#e4e4e4" stroke="#3a3a3a" stroke-width="0.6"/>
<circle cx="654.37" cy="180.83" r="1.95" fill="#e4e4e4" stroke="#3a3a3a" stroke-width="0.6"/>
<circle cx="658.49" cy="183.22" r="1.95" fill="#e4e4e4" stroke="#3a3a3a" stroke-width="0.6"/>
<circle cx="662.30" cy="186.10" r="1.95" fill="#e4e4e4" stroke="#3a3a3a" stroke-width="0.6"/>
<circle cx="608.98" cy="178.29" r="1.95" fill="#e4e4e4" stroke="#3a3a3a" stroke-width="0.6"/>
<circle cx="613.55" cy="177.94" r="1.95" fill="#e4e4e4" stroke="#3a3a3a" stroke-width="0.6"/>
<circle cx="618.21" cy="177.79" r="1.95" fill="#e4e4e4" stroke="#3a3a3a" stroke-width="0.6"/>
<circle cx="622.91" cy="178.01" r="1.95" fill="#e4e4e4" stroke="#3a3a3a" stroke-width="0.6"/>
<circle cx="627.64" cy="178.33" r="1.95" fill="#e4e4e4" stroke="#3a3a3a" stroke-width="0.6"/>
<circle cx="632.33" cy="179.04" r="1.95" fill="#e4e4e4" stroke="#3a3a3a" stroke-width="0.6"/>
<circle cx="637.01" cy="179.86" r="1.95" fill="#e4e4e4" stroke="#3a3a3a" stroke-width="0.6"/>
<circle cx="641.64" cy="180.95" r="1.95" fill="#e4e4e4" stroke="#3a3a3a" stroke-width="0.6"/>
<circle cx="646.20" cy="182.30" r="1.95" fill="#e4e4e4" stroke="#3a3a3a" stroke-width="0.6"/>
<circle cx="650.70" cy="183.84" r="1.95" fill="#e4e4e4" stroke="#3a3a3a" stroke-width="0.6"/>
<circle cx="654.97" cy="185.89" r="1.95" fill="#e4e4e4" stroke="#3a3a3a" stroke-width="0.6"/>
<circle cx="658.84" cy="188.62" r="1.95" fill="#e4e4e4" stroke="#3a3a3a" stroke-width="0.6"/>
<circle cx="605.36" cy="180.82" r="1.95" fill="#e4e4e4" stroke="#3a3a3a" stroke-width="0.6"/>
<circle cx="609.95" cy="180.89" r="1.95" fill="#e4e4e4" stroke="#3a3a3a" stroke-width="0.6"/>
<circle cx="614.60" cy="181.12" r="1.95" fill="#e4e4e4" stroke="#3a3a3a" stroke-width="0.6"/>
<circle cx="619.26" cy="181.45" r="1.95" fill="#e4e4e4" stroke="#3a3a3a" stroke-width="0.6"/>
<circle cx="623.95" cy="181.95" r="1.95" fill="#e4e4e4" stroke="#3a3a3a" stroke-width="0.6"/>
<circle cx="628.63" cy="182.56" r="1.95" fill="#e4e4e4" stroke="#3a3a3a" stroke-width="0.6"/>
<circle cx="633.27" cy="183.45" r="1.95" fill="#e4e4e4" stroke="#3a3a3a" stroke-width="0.6"/>
<circle cx="637.89" cy="184.43" r="1.95" fill="#e4e4e4" stroke="#3a3a3a" stroke-width="0.6"/>
<circle cx="642.47" cy="185.60" r="1.95" fill="#e4e4e4" stroke="#3a3a3a" stroke-width="0.6"/>
<circle cx="646.98" cy="187.02" r="1.95" fill="#e4e4e4" stroke="#3a3a3a" stroke-width="0.6"/>
<circle cx="651.35" cy="188.79" r="1.95" fill="#e4e4e4" stroke="#3a3a3a" stroke-width="0.6"/>
<circle cx="655.47" cy="191.08" r="1.95" fill="#e4e4e4" stroke="#3a3a3a" stroke-width="0.6"/>
<circle cx="659.10" cy="194.10" r="1.95" fill="#e4e4e4" stroke="#3a3a3a" stroke-width="0.6"/>
<circle cx="606.33" cy="183.42" r="1.95" fill="#e4e4e4" stroke="#3a3a3a" stroke-width="0.6"/>
<circle cx="610.99" cy="184.06" r="1.95" fill="#e4e4e4" stroke="#3a3a3a" stroke-width="0.6"/>
<circle cx="615.64" cy="184.71" r="1.95" fill="#e4e4e4" stroke="#3a3a3a" stroke-width="0.6"/>
<circle cx="620.30" cy="185.39" r="1.95" fill="#e4e4e4" stroke="#3a3a3a" stroke-width="0.6"/>
<circle cx="624.95" cy="186.07" r="1.95" fill="#e4e4e4" stroke="#3a3a3a" stroke-width="0.6"/>
<circle cx="629.57" cy="186.96" r="1.95" fill="#e4e4e4" stroke="#3a3a3a" stroke-width="0.6"/>
<circle cx="634.16" cy="187.95" r="1.95" fill="#e4e4e4" stroke="#3a3a3a" stroke-width="0.6"/>
<circle cx="638.76" cy="188.95" r="1.95" fill="#e4e4e4" stroke="#3a3a3a" stroke-width="0.6"/>
<circle cx="643.26" cy="190.30" r="1.95" fill="#e4e4e4" stroke="#3a3a3a" stroke-width="0.6"/>
<circle cx="647.74" cy="191.72" r="1.95" fill="#e4e4e4" stroke="#3a3a3a" stroke-width="0.6"/>
<circle cx="651.95" cy="193.82" r="1.95" fill="#e4e4e4" stroke="#3a3a3a" stroke-width="0.6"/>
<circle cx="655.73" cy="196.55" r="1.95" fill="#e4e4e4" stroke="#3a3a3a" stroke-width="0.6"/>
<polygon points="619.84,198.02 623.27,198.57 623.27,208.07 619.84,207.52" fill="url(#cyl)" stroke="#2a0f38" stroke-width="0.5"/>
<ellipse cx="621.56" cy="198.30" rx="1.71" ry="0.9" fill="#a862c4" stroke="#2a0f38" stroke-width="0.4"/>
<polygon points="623.27,198.57 626.69,199.14 626.69,208.64 623.27,208.07" fill="url(#cyl)" stroke="#2a0f38" stroke-width="0.5"/>
<ellipse cx="624.98" cy="198.86" rx="1.71" ry="0.9" fill="#a862c4" stroke="#2a0f38" stroke-width="0.4"/>
<polygon points="626.69,199.14 630.09,199.82 630.09,209.32 626.69,208.64" fill="url(#cyl)" stroke="#2a0f38" stroke-width="0.5"/>
<ellipse cx="628.39" cy="199.48" rx="1.70" ry="0.9" fill="#a862c4" stroke="#2a0f38" stroke-width="0.4"/>
<polygon points="630.09,199.82 633.49,200.50 633.49,210.00 630.09,209.32" fill="url(#cyl)" stroke="#2a0f38" stroke-width="0.5"/>
<ellipse cx="631.79" cy="200.16" rx="1.70" ry="0.9" fill="#a862c4" stroke="#2a0f38" stroke-width="0.4"/>
<polygon points="633.49,200.50 636.90,201.18 636.90,210.68 633.49,210.00" fill="url(#cyl)" stroke="#2a0f38" stroke-width="0.5"/>
<ellipse cx="635.19" cy="200.84" rx="1.70" ry="0.9" fill="#a862c4" stroke="#2a0f38" stroke-width="0.4"/>
<polygon points="636.90,201.18 640.28,201.94 640.28,211.44 636.90,210.68" fill="url(#cyl)" stroke="#2a0f38" stroke-width="0.5"/>
<ellipse cx="638.59" cy="201.56" rx="1.69" ry="0.9" fill="#a862c4" stroke="#2a0f38" stroke-width="0.4"/>
<polygon points="640.28,201.94 643.63,202.83 643.63,212.33 640.28,211.44" fill="url(#cyl)" stroke="#2a0f38" stroke-width="0.5"/>
<ellipse cx="641.95" cy="202.39" rx="1.68" ry="0.9" fill="#a862c4" stroke="#2a0f38" stroke-width="0.4"/>
<polygon points="643.63,202.83 646.96,203.79 646.96,213.29 643.63,212.33" fill="url(#cyl)" stroke="#2a0f38" stroke-width="0.5"/>
<ellipse cx="645.30" cy="203.31" rx="1.67" ry="0.9" fill="#a862c4" stroke="#2a0f38" stroke-width="0.4"/>
<polygon points="646.96,203.79 650.18,205.07 650.18,214.57 646.96,213.29" fill="url(#cyl)" stroke="#2a0f38" stroke-width="0.5"/>
<ellipse cx="648.57" cy="204.43" rx="1.61" ry="0.9" fill="#a862c4" stroke="#2a0f38" stroke-width="0.4"/>
<polygon points="650.18,205.07 653.21,206.74 653.21,216.24 650.18,214.57" fill="url(#cyl)" stroke="#2a0f38" stroke-width="0.5"/>
<ellipse cx="651.70" cy="205.91" rx="1.51" ry="0.9" fill="#a862c4" stroke="#2a0f38" stroke-width="0.4"/>
<circle cx="604.50" cy="199.60" r="1.95" fill="#e4e4e4" stroke="#3a3a3a" stroke-width="0.6"/>
<circle cx="608.15" cy="200.17" r="1.95" fill="#e4e4e4" stroke="#3a3a3a" stroke-width="0.6"/>
<circle cx="611.81" cy="200.73" r="1.95" fill="#e4e4e4" stroke="#3a3a3a" stroke-width="0.6"/>
<circle cx="615.46" cy="201.31" r="1.95" fill="#e4e4e4" stroke="#3a3a3a" stroke-width="0.6"/>
<circle cx="619.11" cy="201.90" r="1.95" fill="#e4e4e4" stroke="#3a3a3a" stroke-width="0.6"/>
<circle cx="622.76" cy="202.49" r="1.95" fill="#e4e4e4" stroke="#3a3a3a" stroke-width="0.6"/>
<circle cx="630.04" cy="203.81" r="1.95" fill="#e4e4e4" stroke="#3a3a3a" stroke-width="0.6"/>
<circle cx="637.29" cy="205.26" r="1.95" fill="#e4e4e4" stroke="#3a3a3a" stroke-width="0.6"/>
<circle cx="644.47" cy="207.06" r="1.95" fill="#e4e4e4" stroke="#3a3a3a" stroke-width="0.6"/>
<circle cx="651.41" cy="209.57" r="1.95" fill="#e4e4e4" stroke="#3a3a3a" stroke-width="0.6"/>
<circle cx="654.50" cy="211.60" r="1.95" fill="#e4e4e4" stroke="#3a3a3a" stroke-width="0.6"/>
<polyline points="674.9,142.9 666.2,161.6 656.8,165.6" fill="none" stroke="#3ab54a" stroke-width="2.7" stroke-linejoin="miter"/>
<polyline points="655.5,162.6 663.6,159.4" fill="none" stroke="#3ab54a" stroke-width="2.7" stroke-linejoin="miter"/>
<polyline points="679.2,144.8 669.6,163.6 672.2,172.9" fill="none" stroke="#3ab54a" stroke-width="2.7" stroke-linejoin="miter"/>
<polyline points="673.4,164.7 675.6,172.9" fill="none" stroke="#3ab54a" stroke-width="2.7" stroke-linejoin="miter"/>
<circle cx="664.2" cy="171.8" r="4.9" fill="url(#pball)" stroke="#6b2f86" stroke-width="0.4"/>
<line x1="618.0" y1="203.0" x2="622.0" y2="200.0" stroke="#333" stroke-width="0.5"/>
<circle cx="614.0" cy="206.7" r="5" fill="url(#pball)" stroke="#6b2f86" stroke-width="0.4"/>
<text x="634.0" y="218.6" font-size="11" font-weight="normal" text-anchor="middle" fill="#000" >PglB</text>
<line x1="579.70" y1="286.10" x2="583.20" y2="286.10" stroke="#6a6a6a" stroke-width="0.45"/>
<line x1="579.67" y1="286.81" x2="583.15" y2="287.15" stroke="#6a6a6a" stroke-width="0.45"/>
<line x1="579.56" y1="287.50" x2="582.99" y2="288.19" stroke="#6a6a6a" stroke-width="0.45"/>
<line x1="579.39" y1="288.19" x2="582.74" y2="289.21" stroke="#6a6a6a" stroke-width="0.45"/>
<line x1="579.15" y1="288.86" x2="582.39" y2="290.19" stroke="#6a6a6a" stroke-width="0.45"/>
<line x1="578.85" y1="289.49" x2="581.94" y2="291.14" stroke="#6a6a6a" stroke-width="0.45"/>
<line x1="578.49" y1="290.10" x2="581.40" y2="292.04" stroke="#6a6a6a" stroke-width="0.45"/>
<line x1="578.07" y1="290.67" x2="580.77" y2="292.89" stroke="#6a6a6a" stroke-width="0.45"/>
<line x1="577.59" y1="291.19" x2="580.07" y2="293.67" stroke="#6a6a6a" stroke-width="0.45"/>
<line x1="577.07" y1="291.67" x2="579.29" y2="294.37" stroke="#6a6a6a" stroke-width="0.45"/>
<line x1="576.50" y1="292.09" x2="578.44" y2="295.00" stroke="#6a6a6a" stroke-width="0.45"/>
<line x1="575.89" y1="292.45" x2="577.54" y2="295.54" stroke="#6a6a6a" stroke-width="0.45"/>
<line x1="575.26" y1="292.75" x2="576.59" y2="295.99" stroke="#6a6a6a" stroke-width="0.45"/>
<line x1="574.59" y1="292.99" x2="575.61" y2="296.34" stroke="#6a6a6a" stroke-width="0.45"/>
<line x1="573.90" y1="293.16" x2="574.59" y2="296.59" stroke="#6a6a6a" stroke-width="0.45"/>
<line x1="573.21" y1="293.27" x2="573.55" y2="296.75" stroke="#6a6a6a" stroke-width="0.45"/>
<line x1="572.50" y1="293.30" x2="572.50" y2="296.80" stroke="#6a6a6a" stroke-width="0.45"/>
<line x1="571.79" y1="293.27" x2="571.45" y2="296.75" stroke="#6a6a6a" stroke-width="0.45"/>
<line x1="571.10" y1="293.16" x2="570.41" y2="296.59" stroke="#6a6a6a" stroke-width="0.45"/>
<line x1="570.41" y1="292.99" x2="569.39" y2="296.34" stroke="#6a6a6a" stroke-width="0.45"/>
<line x1="569.74" y1="292.75" x2="568.41" y2="295.99" stroke="#6a6a6a" stroke-width="0.45"/>
<line x1="569.11" y1="292.45" x2="567.46" y2="295.54" stroke="#6a6a6a" stroke-width="0.45"/>
<line x1="568.50" y1="292.09" x2="566.56" y2="295.00" stroke="#6a6a6a" stroke-width="0.45"/>
<line x1="567.93" y1="291.67" x2="565.71" y2="294.37" stroke="#6a6a6a" stroke-width="0.45"/>
<line x1="567.41" y1="291.19" x2="564.93" y2="293.67" stroke="#6a6a6a" stroke-width="0.45"/>
<line x1="566.93" y1="290.67" x2="564.23" y2="292.89" stroke="#6a6a6a" stroke-width="0.45"/>
<line x1="566.51" y1="290.10" x2="563.60" y2="292.04" stroke="#6a6a6a" stroke-width="0.45"/>
<line x1="566.15" y1="289.49" x2="563.06" y2="291.14" stroke="#6a6a6a" stroke-width="0.45"/>
<line x1="565.85" y1="288.86" x2="562.61" y2="290.19" stroke="#6a6a6a" stroke-width="0.45"/>
<line x1="565.61" y1="288.19" x2="562.26" y2="289.21" stroke="#6a6a6a" stroke-width="0.45"/>
<line x1="565.44" y1="287.50" x2="562.01" y2="288.19" stroke="#6a6a6a" stroke-width="0.45"/>
<line x1="565.33" y1="286.81" x2="561.85" y2="287.15" stroke="#6a6a6a" stroke-width="0.45"/>
<line x1="565.30" y1="286.10" x2="561.80" y2="286.10" stroke="#6a6a6a" stroke-width="0.45"/>
<line x1="565.33" y1="285.39" x2="561.85" y2="285.05" stroke="#6a6a6a" stroke-width="0.45"/>
<line x1="565.44" y1="284.70" x2="562.01" y2="284.01" stroke="#6a6a6a" stroke-width="0.45"/>
<line x1="565.61" y1="284.01" x2="562.26" y2="282.99" stroke="#6a6a6a" stroke-width="0.45"/>
<line x1="565.85" y1="283.34" x2="562.61" y2="282.01" stroke="#6a6a6a" stroke-width="0.45"/>
<line x1="566.15" y1="282.71" x2="563.06" y2="281.06" stroke="#6a6a6a" stroke-width="0.45"/>
<line x1="566.51" y1="282.10" x2="563.60" y2="280.16" stroke="#6a6a6a" stroke-width="0.45"/>
<line x1="566.93" y1="281.53" x2="564.23" y2="279.31" stroke="#6a6a6a" stroke-width="0.45"/>
<line x1="567.41" y1="281.01" x2="564.93" y2="278.53" stroke="#6a6a6a" stroke-width="0.45"/>
<line x1="567.93" y1="280.53" x2="565.71" y2="277.83" stroke="#6a6a6a" stroke-width="0.45"/>
<line x1="568.50" y1="280.11" x2="566.56" y2="277.20" stroke="#6a6a6a" stroke-width="0.45"/>
<line x1="569.11" y1="279.75" x2="567.46" y2="276.66" stroke="#6a6a6a" stroke-width="0.45"/>
<line x1="569.74" y1="279.45" x2="568.41" y2="276.21" stroke="#6a6a6a" stroke-width="0.45"/>
<line x1="570.41" y1="279.21" x2="569.39" y2="275.86" stroke="#6a6a6a" stroke-width="0.45"/>
<line x1="571.10" y1="279.04" x2="570.41" y2="275.61" stroke="#6a6a6a" stroke-width="0.45"/>
<line x1="571.79" y1="278.93" x2="571.45" y2="275.45" stroke="#6a6a6a" stroke-width="0.45"/>
<line x1="572.50" y1="278.90" x2="572.50" y2="275.40" stroke="#6a6a6a" stroke-width="0.45"/>
<line x1="573.21" y1="278.93" x2="573.55" y2="275.45" stroke="#6a6a6a" stroke-width="0.45"/>
<line x1="573.90" y1="279.04" x2="574.59" y2="275.61" stroke="#6a6a6a" stroke-width="0.45"/>
<line x1="574.59" y1="279.21" x2="575.61" y2="275.86" stroke="#6a6a6a" stroke-width="0.45"/>
<line x1="575.26" y1="279.45" x2="576.59" y2="276.21" stroke="#6a6a6a" stroke-width="0.45"/>
<line x1="575.89" y1="279.75" x2="577.54" y2="276.66" stroke="#6a6a6a" stroke-width="0.45"/>
<line x1="576.50" y1="280.11" x2="578.44" y2="277.20" stroke="#6a6a6a" stroke-width="0.45"/>
<line x1="577.07" y1="280.53" x2="579.29" y2="277.83" stroke="#6a6a6a" stroke-width="0.45"/>
<line x1="577.59" y1="281.01" x2="580.07" y2="278.53" stroke="#6a6a6a" stroke-width="0.45"/>
<line x1="578.07" y1="281.53" x2="580.77" y2="279.31" stroke="#6a6a6a" stroke-width="0.45"/>
<line x1="578.49" y1="282.10" x2="581.40" y2="280.16" stroke="#6a6a6a" stroke-width="0.45"/>
<line x1="578.85" y1="282.71" x2="581.94" y2="281.06" stroke="#6a6a6a" stroke-width="0.45"/>
<line x1="579.15" y1="283.34" x2="582.39" y2="282.01" stroke="#6a6a6a" stroke-width="0.45"/>
<line x1="579.39" y1="284.01" x2="582.74" y2="282.99" stroke="#6a6a6a" stroke-width="0.45"/>
<line x1="579.56" y1="284.70" x2="582.99" y2="284.01" stroke="#6a6a6a" stroke-width="0.45"/>
<line x1="579.67" y1="285.39" x2="583.15" y2="285.05" stroke="#6a6a6a" stroke-width="0.45"/>
<circle cx="572.5" cy="286.1" r="10.6" fill="none" stroke="#505050" stroke-width="0.8" stroke-dasharray="0.9 0.6"/>
<circle cx="572.5" cy="286.1" r="7.4" fill="none" stroke="#505050" stroke-width="0.8" stroke-dasharray="0.9 0.6"/>
<circle cx="572.5" cy="286.1" r="6.9" fill="#fff"/>
<circle cx="572.5" cy="286.1" r="6.5" fill="#35b44b" stroke="#1e5e2a" stroke-width="0.6"/>
<polyline points="583.0,279.5 587.8,279.5 587.8,294.3 583.0,294.3" fill="none" stroke="#c4c4c4" stroke-width="0.7"/>
<line x1="587.8" y1="279.5" x2="609.5" y2="269.3" stroke="#c4c4c4" stroke-width="0.7"/>
<line x1="587.8" y1="294.3" x2="610.8" y2="315.20000000000005" stroke="#c4c4c4" stroke-width="0.7"/>
<ellipse cx="639.7" cy="293" rx="43" ry="36" fill="#fff" stroke="#c8c8c8" stroke-width="0.8"/>
<polygon points="602.3,279.8 613.0,273.6 613.0,304.8 606.0,309.8" fill="#999"/>
<path d="M664.5,287.3 L677.5,282.2 L677.5,303.3 Q663.5,306.8 658.8,322.3 L657.0,303.8 Z" fill="#999"/>
<polygon points="618.12,275.03 621.98,273.92 621.98,283.42 618.12,284.53" fill="url(#cyl)" stroke="#2a0f38" stroke-width="0.5"/>
<ellipse cx="620.05" cy="274.47" rx="1.93" ry="0.9" fill="#a862c4" stroke="#2a0f38" stroke-width="0.4"/>
<polygon points="621.98,273.92 625.90,273.22 625.90,282.72 621.98,283.42" fill="url(#cyl)" stroke="#2a0f38" stroke-width="0.5"/>
<ellipse cx="623.94" cy="273.57" rx="1.96" ry="0.9" fill="#a862c4" stroke="#2a0f38" stroke-width="0.4"/>
<polygon points="625.90,273.22 629.90,273.04 629.90,282.54 625.90,282.72" fill="url(#cyl)" stroke="#2a0f38" stroke-width="0.5"/>
<ellipse cx="627.90" cy="273.13" rx="2.00" ry="0.9" fill="#a862c4" stroke="#2a0f38" stroke-width="0.4"/>
<polygon points="629.90,273.04 633.91,273.00 633.91,282.50 629.90,282.54" fill="url(#cyl)" stroke="#2a0f38" stroke-width="0.5"/>
<ellipse cx="631.91" cy="273.02" rx="2.00" ry="0.9" fill="#a862c4" stroke="#2a0f38" stroke-width="0.4"/>
<polygon points="633.91,273.00 637.90,273.41 637.90,282.91 633.91,282.50" fill="url(#cyl)" stroke="#2a0f38" stroke-width="0.5"/>
<ellipse cx="635.90" cy="273.20" rx="2.00" ry="0.9" fill="#a862c4" stroke="#2a0f38" stroke-width="0.4"/>
<polygon points="637.90,273.41 641.89,273.82 641.89,283.32 637.90,282.91" fill="url(#cyl)" stroke="#2a0f38" stroke-width="0.5"/>
<ellipse cx="639.89" cy="273.61" rx="1.99" ry="0.9" fill="#a862c4" stroke="#2a0f38" stroke-width="0.4"/>
<polygon points="641.89,273.82 645.77,274.84 645.77,284.34 641.89,283.32" fill="url(#cyl)" stroke="#2a0f38" stroke-width="0.5"/>
<ellipse cx="643.83" cy="274.33" rx="1.94" ry="0.9" fill="#a862c4" stroke="#2a0f38" stroke-width="0.4"/>
<polygon points="645.77,274.84 649.65,275.85 649.65,285.35 645.77,284.34" fill="url(#cyl)" stroke="#2a0f38" stroke-width="0.5"/>
<ellipse cx="647.71" cy="275.34" rx="1.94" ry="0.9" fill="#a862c4" stroke="#2a0f38" stroke-width="0.4"/>
<polygon points="649.65,275.85 653.43,277.18 653.43,286.68 649.65,285.35" fill="url(#cyl)" stroke="#2a0f38" stroke-width="0.5"/>
<ellipse cx="651.54" cy="276.52" rx="1.89" ry="0.9" fill="#a862c4" stroke="#2a0f38" stroke-width="0.4"/>
<polygon points="653.43,277.18 657.17,278.61 657.17,288.11 653.43,286.68" fill="url(#cyl)" stroke="#2a0f38" stroke-width="0.5"/>
<ellipse cx="655.30" cy="277.90" rx="1.87" ry="0.9" fill="#a862c4" stroke="#2a0f38" stroke-width="0.4"/>
<polygon points="657.17,278.61 660.75,280.36 660.75,289.86 657.17,288.11" fill="url(#cyl)" stroke="#2a0f38" stroke-width="0.5"/>
<ellipse cx="658.96" cy="279.49" rx="1.79" ry="0.9" fill="#a862c4" stroke="#2a0f38" stroke-width="0.4"/>
<polyline points="605.00,289.80 605.70,294.57 604.30,299.53 605.50,304.30" fill="none" stroke="#2a2a2a" stroke-width="0.5"/>
<polyline points="606.43,290.00 607.13,294.77 605.73,299.73 606.81,304.50" fill="none" stroke="#2a2a2a" stroke-width="0.5"/>
<polyline points="607.87,290.19 608.57,294.97 607.17,299.93 608.12,304.71" fill="none" stroke="#2a2a2a" stroke-width="0.5"/>
<polyline points="609.30,290.39 610.00,295.17 608.60,300.13 609.44,304.91" fill="none" stroke="#2a2a2a" stroke-width="0.5"/>
<polyline points="610.73,290.59 611.43,295.37 610.03,300.33 610.75,305.11" fill="none" stroke="#2a2a2a" stroke-width="0.5"/>
<polyline points="612.17,290.78 612.87,295.57 611.47,300.53 612.06,305.31" fill="none" stroke="#2a2a2a" stroke-width="0.5"/>
<polyline points="613.60,290.98 614.30,295.77 612.90,300.73 613.37,305.52" fill="none" stroke="#2a2a2a" stroke-width="0.5"/>
<polyline points="615.03,291.18 615.73,295.97 614.33,300.93 614.68,305.72" fill="none" stroke="#2a2a2a" stroke-width="0.5"/>
<polyline points="616.47,291.39 617.17,296.18 615.77,301.14 616.00,305.93" fill="none" stroke="#2a2a2a" stroke-width="0.5"/>
<polyline points="617.90,291.59 618.60,296.39 617.20,301.35 617.31,306.14" fill="none" stroke="#2a2a2a" stroke-width="0.5"/>
<polyline points="619.33,291.80 620.03,296.60 618.63,301.56 618.62,306.36" fill="none" stroke="#2a2a2a" stroke-width="0.5"/>
<polyline points="620.76,292.01 621.46,296.81 620.06,301.77 619.93,306.57" fill="none" stroke="#2a2a2a" stroke-width="0.5"/>
<polyline points="622.19,292.22 622.89,297.02 621.49,301.99 621.24,306.78" fill="none" stroke="#4a1a5e" stroke-width="0.5"/>
<polyline points="623.62,292.43 624.32,297.23 622.92,302.20 622.55,306.99" fill="none" stroke="#4a1a5e" stroke-width="0.5"/>
<polyline points="625.06,292.64 625.76,297.44 624.36,302.41 623.86,307.21" fill="none" stroke="#4a1a5e" stroke-width="0.5"/>
<polyline points="626.49,292.85 627.19,297.65 625.79,302.62 625.17,307.42" fill="none" stroke="#4a1a5e" stroke-width="0.5"/>
<polyline points="627.91,293.09 628.61,297.88 627.21,302.84 626.48,307.63" fill="none" stroke="#4a1a5e" stroke-width="0.5"/>
<polyline points="629.33,293.39 630.03,298.16 628.63,303.10 627.79,307.86" fill="none" stroke="#4a1a5e" stroke-width="0.5"/>
<polyline points="630.74,293.70 631.44,298.45 630.04,303.37 629.09,308.12" fill="none" stroke="#4a1a5e" stroke-width="0.5"/>
<polyline points="632.16,294.01 632.86,298.74 631.46,303.65 630.39,308.38" fill="none" stroke="#4a1a5e" stroke-width="0.5"/>
<polyline points="633.57,294.31 634.27,299.03 632.87,303.92 631.69,308.64" fill="none" stroke="#4a1a5e" stroke-width="0.5"/>
<polyline points="634.98,294.62 635.68,299.32 634.28,304.20 632.99,308.90" fill="none" stroke="#4a1a5e" stroke-width="0.5"/>
<polyline points="636.40,294.92 637.10,299.61 635.70,304.48 634.30,309.16" fill="none" stroke="#4a1a5e" stroke-width="0.5"/>
<polyline points="637.81,295.23 638.51,299.89 637.11,304.75 635.60,309.42" fill="none" stroke="#4a1a5e" stroke-width="0.5"/>
<polyline points="639.23,295.53 639.93,300.18 638.53,305.03 636.90,309.68" fill="none" stroke="#4a1a5e" stroke-width="0.5"/>
<polyline points="640.63,295.89 641.33,300.51 639.93,305.32 638.20,309.94" fill="none" stroke="#4a1a5e" stroke-width="0.5"/>
<polyline points="642.01,296.32 642.71,300.88 641.31,305.64 639.50,310.20" fill="none" stroke="#4a1a5e" stroke-width="0.5"/>
<polyline points="643.39,296.74 644.09,301.26 642.69,305.99 640.79,310.51" fill="none" stroke="#4a1a5e" stroke-width="0.5"/>
<polyline points="644.78,297.16 645.48,301.65 644.08,306.36 642.08,310.85" fill="none" stroke="#4a1a5e" stroke-width="0.5"/>
<polyline points="646.16,297.58 646.86,302.05 645.46,306.73 643.36,311.20" fill="none" stroke="#4a1a5e" stroke-width="0.5"/>
<polyline points="647.55,298.01 648.25,302.44 646.85,307.10 644.64,311.54" fill="none" stroke="#4a1a5e" stroke-width="0.5"/>
<polyline points="648.90,298.50 649.60,302.88 648.20,307.50 645.92,311.88" fill="none" stroke="#4a1a5e" stroke-width="0.5"/>
<polyline points="650.20,299.15 650.90,303.42 649.50,307.95 647.21,312.22" fill="none" stroke="#4a1a5e" stroke-width="0.5"/>
<polyline points="651.49,299.79 652.19,304.00 650.79,308.47 648.45,312.68" fill="none" stroke="#4a1a5e" stroke-width="0.5"/>
<polyline points="652.78,300.44 653.48,304.60 652.08,309.02 649.68,313.17" fill="none" stroke="#4a1a5e" stroke-width="0.5"/>
<polyline points="654.08,301.09 654.78,305.19 653.38,309.56 650.92,313.67" fill="none" stroke="#4a1a5e" stroke-width="0.5"/>
<polyline points="655.23,301.94 655.93,305.92 654.53,310.18 652.15,314.16" fill="none" stroke="#4a1a5e" stroke-width="0.5"/>
<polyline points="656.32,302.89 657.02,306.77 655.62,310.95 653.29,314.83" fill="none" stroke="#2a2a2a" stroke-width="0.5"/>
<polyline points="657.41,303.85 658.11,307.65 656.71,311.76 654.40,315.56" fill="none" stroke="#2a2a2a" stroke-width="0.5"/>
<polyline points="658.50,304.80 659.20,308.53 657.80,312.57 655.50,316.30" fill="none" stroke="#2a2a2a" stroke-width="0.5"/>
<polygon points="621.8,292.7 625.2,293.2 628.7,293.8 632.1,294.5 635.5,295.2 638.9,296.0 642.3,296.9 645.6,297.9 649.0,299.0 652.1,300.6 655.1,302.3 653.8,317.7 650.8,316.1 647.8,314.9 644.6,314.0 641.4,313.2 638.1,312.4 634.9,311.8 631.7,311.1 628.4,310.5 625.1,309.9 621.9,309.4" fill="#4e1c64" opacity="0.85"/>
<circle cx="611.80" cy="277.40" r="1.95" fill="#e4e4e4" stroke="#3a3a3a" stroke-width="0.6"/>
<circle cx="616.11" cy="275.20" r="1.95" fill="#e4e4e4" stroke="#3a3a3a" stroke-width="0.6"/>
<circle cx="662.51" cy="281.06" r="1.95" fill="#e4e4e4" stroke="#3a3a3a" stroke-width="0.6"/>
<circle cx="666.50" cy="283.80" r="1.95" fill="#e4e4e4" stroke="#3a3a3a" stroke-width="0.6"/>
<circle cx="612.63" cy="278.86" r="1.95" fill="#e4e4e4" stroke="#3a3a3a" stroke-width="0.6"/>
<circle cx="662.95" cy="286.40" r="1.95" fill="#e4e4e4" stroke="#3a3a3a" stroke-width="0.6"/>
<circle cx="609.08" cy="281.96" r="1.95" fill="#e4e4e4" stroke="#3a3a3a" stroke-width="0.6"/>
<circle cx="613.53" cy="280.90" r="1.95" fill="#e4e4e4" stroke="#3a3a3a" stroke-width="0.6"/>
<circle cx="618.16" cy="280.30" r="1.95" fill="#e4e4e4" stroke="#3a3a3a" stroke-width="0.6"/>
<circle cx="622.84" cy="279.94" r="1.95" fill="#e4e4e4" stroke="#3a3a3a" stroke-width="0.6"/>
<circle cx="627.60" cy="280.09" r="1.95" fill="#e4e4e4" stroke="#3a3a3a" stroke-width="0.6"/>
<circle cx="632.35" cy="280.44" r="1.95" fill="#e4e4e4" stroke="#3a3a3a" stroke-width="0.6"/>
<circle cx="637.08" cy="281.13" r="1.95" fill="#e4e4e4" stroke="#3a3a3a" stroke-width="0.6"/>
<circle cx="641.76" cy="282.08" r="1.95" fill="#e4e4e4" stroke="#3a3a3a" stroke-width="0.6"/>
<circle cx="646.39" cy="283.28" r="1.95" fill="#e4e4e4" stroke="#3a3a3a" stroke-width="0.6"/>
<circle cx="650.93" cy="284.79" r="1.95" fill="#e4e4e4" stroke="#3a3a3a" stroke-width="0.6"/>
<circle cx="655.37" cy="286.53" r="1.95" fill="#e4e4e4" stroke="#3a3a3a" stroke-width="0.6"/>
<circle cx="659.49" cy="288.92" r="1.95" fill="#e4e4e4" stroke="#3a3a3a" stroke-width="0.6"/>
<circle cx="663.30" cy="291.80" r="1.95" fill="#e4e4e4" stroke="#3a3a3a" stroke-width="0.6"/>
<circle cx="609.98" cy="283.99" r="1.95" fill="#e4e4e4" stroke="#3a3a3a" stroke-width="0.6"/>
<circle cx="614.55" cy="283.64" r="1.95" fill="#e4e4e4" stroke="#3a3a3a" stroke-width="0.6"/>
<circle cx="619.21" cy="283.49" r="1.95" fill="#e4e4e4" stroke="#3a3a3a" stroke-width="0.6"/>
<circle cx="623.91" cy="283.71" r="1.95" fill="#e4e4e4" stroke="#3a3a3a" stroke-width="0.6"/>
<circle cx="628.64" cy="284.03" r="1.95" fill="#e4e4e4" stroke="#3a3a3a" stroke-width="0.6"/>
<circle cx="633.33" cy="284.74" r="1.95" fill="#e4e4e4" stroke="#3a3a3a" stroke-width="0.6"/>
<circle cx="638.01" cy="285.56" r="1.95" fill="#e4e4e4" stroke="#3a3a3a" stroke-width="0.6"/>
<circle cx="642.64" cy="286.65" r="1.95" fill="#e4e4e4" stroke="#3a3a3a" stroke-width="0.6"/>
<circle cx="647.20" cy="288.00" r="1.95" fill="#e4e4e4" stroke="#3a3a3a" stroke-width="0.6"/>
<circle cx="651.70" cy="289.54" r="1.95" fill="#e4e4e4" stroke="#3a3a3a" stroke-width="0.6"/>
<circle cx="655.97" cy="291.59" r="1.95" fill="#e4e4e4" stroke="#3a3a3a" stroke-width="0.6"/>
<circle cx="659.84" cy="294.32" r="1.95" fill="#e4e4e4" stroke="#3a3a3a" stroke-width="0.6"/>
<circle cx="606.36" cy="286.52" r="1.95" fill="#e4e4e4" stroke="#3a3a3a" stroke-width="0.6"/>
<circle cx="610.95" cy="286.59" r="1.95" fill="#e4e4e4" stroke="#3a3a3a" stroke-width="0.6"/>
<circle cx="615.60" cy="286.82" r="1.95" fill="#e4e4e4" stroke="#3a3a3a" stroke-width="0.6"/>
<circle cx="620.26" cy="287.15" r="1.95" fill="#e4e4e4" stroke="#3a3a3a" stroke-width="0.6"/>
<circle cx="624.95" cy="287.65" r="1.95" fill="#e4e4e4" stroke="#3a3a3a" stroke-width="0.6"/>
<circle cx="629.63" cy="288.26" r="1.95" fill="#e4e4e4" stroke="#3a3a3a" stroke-width="0.6"/>
<circle cx="634.27" cy="289.15" r="1.95" fill="#e4e4e4" stroke="#3a3a3a" stroke-width="0.6"/>
<circle cx="638.89" cy="290.13" r="1.95" fill="#e4e4e4" stroke="#3a3a3a" stroke-width="0.6"/>
<circle cx="643.47" cy="291.30" r="1.95" fill="#e4e4e4" stroke="#3a3a3a" stroke-width="0.6"/>
<circle cx="647.98" cy="292.72" r="1.95" fill="#e4e4e4" stroke="#3a3a3a" stroke-width="0.6"/>
<circle cx="652.35" cy="294.49" r="1.95" fill="#e4e4e4" stroke="#3a3a3a" stroke-width="0.6"/>
<circle cx="656.47" cy="296.78" r="1.95" fill="#e4e4e4" stroke="#3a3a3a" stroke-width="0.6"/>
<circle cx="660.10" cy="299.80" r="1.95" fill="#e4e4e4" stroke="#3a3a3a" stroke-width="0.6"/>
<circle cx="607.33" cy="289.12" r="1.95" fill="#e4e4e4" stroke="#3a3a3a" stroke-width="0.6"/>
<circle cx="611.99" cy="289.76" r="1.95" fill="#e4e4e4" stroke="#3a3a3a" stroke-width="0.6"/>
<circle cx="616.64" cy="290.41" r="1.95" fill="#e4e4e4" stroke="#3a3a3a" stroke-width="0.6"/>
<circle cx="621.30" cy="291.09" r="1.95" fill="#e4e4e4" stroke="#3a3a3a" stroke-width="0.6"/>
<circle cx="625.95" cy="291.77" r="1.95" fill="#e4e4e4" stroke="#3a3a3a" stroke-width="0.6"/>
<circle cx="630.57" cy="292.66" r="1.95" fill="#e4e4e4" stroke="#3a3a3a" stroke-width="0.6"/>
<circle cx="635.16" cy="293.65" r="1.95" fill="#e4e4e4" stroke="#3a3a3a" stroke-width="0.6"/>
<circle cx="639.76" cy="294.65" r="1.95" fill="#e4e4e4" stroke="#3a3a3a" stroke-width="0.6"/>
<circle cx="644.26" cy="296.00" r="1.95" fill="#e4e4e4" stroke="#3a3a3a" stroke-width="0.6"/>
<circle cx="648.74" cy="297.42" r="1.95" fill="#e4e4e4" stroke="#3a3a3a" stroke-width="0.6"/>
<circle cx="652.95" cy="299.52" r="1.95" fill="#e4e4e4" stroke="#3a3a3a" stroke-width="0.6"/>
<circle cx="656.73" cy="302.25" r="1.95" fill="#e4e4e4" stroke="#3a3a3a" stroke-width="0.6"/>
<polygon points="620.84,303.72 624.27,304.27 624.27,313.77 620.84,313.22" fill="url(#cyl)" stroke="#2a0f38" stroke-width="0.5"/>
<ellipse cx="622.56" cy="304.00" rx="1.71" ry="0.9" fill="#a862c4" stroke="#2a0f38" stroke-width="0.4"/>
<polygon points="624.27,304.27 627.69,304.84 627.69,314.34 624.27,313.77" fill="url(#cyl)" stroke="#2a0f38" stroke-width="0.5"/>
<ellipse cx="625.98" cy="304.56" rx="1.71" ry="0.9" fill="#a862c4" stroke="#2a0f38" stroke-width="0.4"/>
<polygon points="627.69,304.84 631.09,305.52 631.09,315.02 627.69,314.34" fill="url(#cyl)" stroke="#2a0f38" stroke-width="0.5"/>
<ellipse cx="629.39" cy="305.18" rx="1.70" ry="0.9" fill="#a862c4" stroke="#2a0f38" stroke-width="0.4"/>
<polygon points="631.09,305.52 634.49,306.20 634.49,315.70 631.09,315.02" fill="url(#cyl)" stroke="#2a0f38" stroke-width="0.5"/>
<ellipse cx="632.79" cy="305.86" rx="1.70" ry="0.9" fill="#a862c4" stroke="#2a0f38" stroke-width="0.4"/>
<polygon points="634.49,306.20 637.90,306.88 637.90,316.38 634.49,315.70" fill="url(#cyl)" stroke="#2a0f38" stroke-width="0.5"/>
<ellipse cx="636.19" cy="306.54" rx="1.70" ry="0.9" fill="#a862c4" stroke="#2a0f38" stroke-width="0.4"/>
<polygon points="637.90,306.88 641.28,307.64 641.28,317.14 637.90,316.38" fill="url(#cyl)" stroke="#2a0f38" stroke-width="0.5"/>
<ellipse cx="639.59" cy="307.26" rx="1.69" ry="0.9" fill="#a862c4" stroke="#2a0f38" stroke-width="0.4"/>
<polygon points="641.28,307.64 644.63,308.53 644.63,318.03 641.28,317.14" fill="url(#cyl)" stroke="#2a0f38" stroke-width="0.5"/>
<ellipse cx="642.95" cy="308.09" rx="1.68" ry="0.9" fill="#a862c4" stroke="#2a0f38" stroke-width="0.4"/>
<polygon points="644.63,308.53 647.96,309.49 647.96,318.99 644.63,318.03" fill="url(#cyl)" stroke="#2a0f38" stroke-width="0.5"/>
<ellipse cx="646.30" cy="309.01" rx="1.67" ry="0.9" fill="#a862c4" stroke="#2a0f38" stroke-width="0.4"/>
<polygon points="647.96,309.49 651.18,310.77 651.18,320.27 647.96,318.99" fill="url(#cyl)" stroke="#2a0f38" stroke-width="0.5"/>
<ellipse cx="649.57" cy="310.13" rx="1.61" ry="0.9" fill="#a862c4" stroke="#2a0f38" stroke-width="0.4"/>
<polygon points="651.18,310.77 654.21,312.44 654.21,321.94 651.18,320.27" fill="url(#cyl)" stroke="#2a0f38" stroke-width="0.5"/>
<ellipse cx="652.70" cy="311.61" rx="1.51" ry="0.9" fill="#a862c4" stroke="#2a0f38" stroke-width="0.4"/>
<circle cx="605.50" cy="305.30" r="1.95" fill="#e4e4e4" stroke="#3a3a3a" stroke-width="0.6"/>
<circle cx="609.15" cy="305.87" r="1.95" fill="#e4e4e4" stroke="#3a3a3a" stroke-width="0.6"/>
<circle cx="612.81" cy="306.43" r="1.95" fill="#e4e4e4" stroke="#3a3a3a" stroke-width="0.6"/>
<circle cx="616.46" cy="307.01" r="1.95" fill="#e4e4e4" stroke="#3a3a3a" stroke-width="0.6"/>
<circle cx="620.11" cy="307.60" r="1.95" fill="#e4e4e4" stroke="#3a3a3a" stroke-width="0.6"/>
<circle cx="623.76" cy="308.19" r="1.95" fill="#e4e4e4" stroke="#3a3a3a" stroke-width="0.6"/>
<circle cx="631.04" cy="309.51" r="1.95" fill="#e4e4e4" stroke="#3a3a3a" stroke-width="0.6"/>
<circle cx="638.29" cy="310.96" r="1.95" fill="#e4e4e4" stroke="#3a3a3a" stroke-width="0.6"/>
<circle cx="645.47" cy="312.76" r="1.95" fill="#e4e4e4" stroke="#3a3a3a" stroke-width="0.6"/>
<circle cx="652.41" cy="315.27" r="1.95" fill="#e4e4e4" stroke="#3a3a3a" stroke-width="0.6"/>
<circle cx="655.50" cy="317.30" r="1.95" fill="#e4e4e4" stroke="#3a3a3a" stroke-width="0.6"/>
<polyline points="675.9,248.60000000000002 667.2,267.3 657.8,271.3" fill="none" stroke="#3ab54a" stroke-width="2.7" stroke-linejoin="miter"/>
<polyline points="656.5,268.3 664.6,265.1" fill="none" stroke="#3ab54a" stroke-width="2.7" stroke-linejoin="miter"/>
<polyline points="680.2,250.5 670.6,269.3 673.2,278.6" fill="none" stroke="#3ab54a" stroke-width="2.7" stroke-linejoin="miter"/>
<polyline points="674.4,270.4 676.6,278.6" fill="none" stroke="#3ab54a" stroke-width="2.7" stroke-linejoin="miter"/>
<circle cx="665.2" cy="277.5" r="4.9" fill="url(#pball)" stroke="#6b2f86" stroke-width="0.4"/>
<line x1="619.0" y1="308.7" x2="623.0" y2="305.7" stroke="#333" stroke-width="0.5"/>
<circle cx="615.0" cy="312.4" r="5" fill="url(#pball)" stroke="#6b2f86" stroke-width="0.4"/>
<text x="636.5" y="324.3" font-size="11" font-weight="normal" text-anchor="middle" fill="#000" >PglO</text>
<text x="401.5" y="19.7" font-size="27" font-weight="bold" text-anchor="start" fill="#000" transform="translate(401.5,0) scale(0.94,1) translate(-401.5,0)">d</text>
</svg></body></html>
